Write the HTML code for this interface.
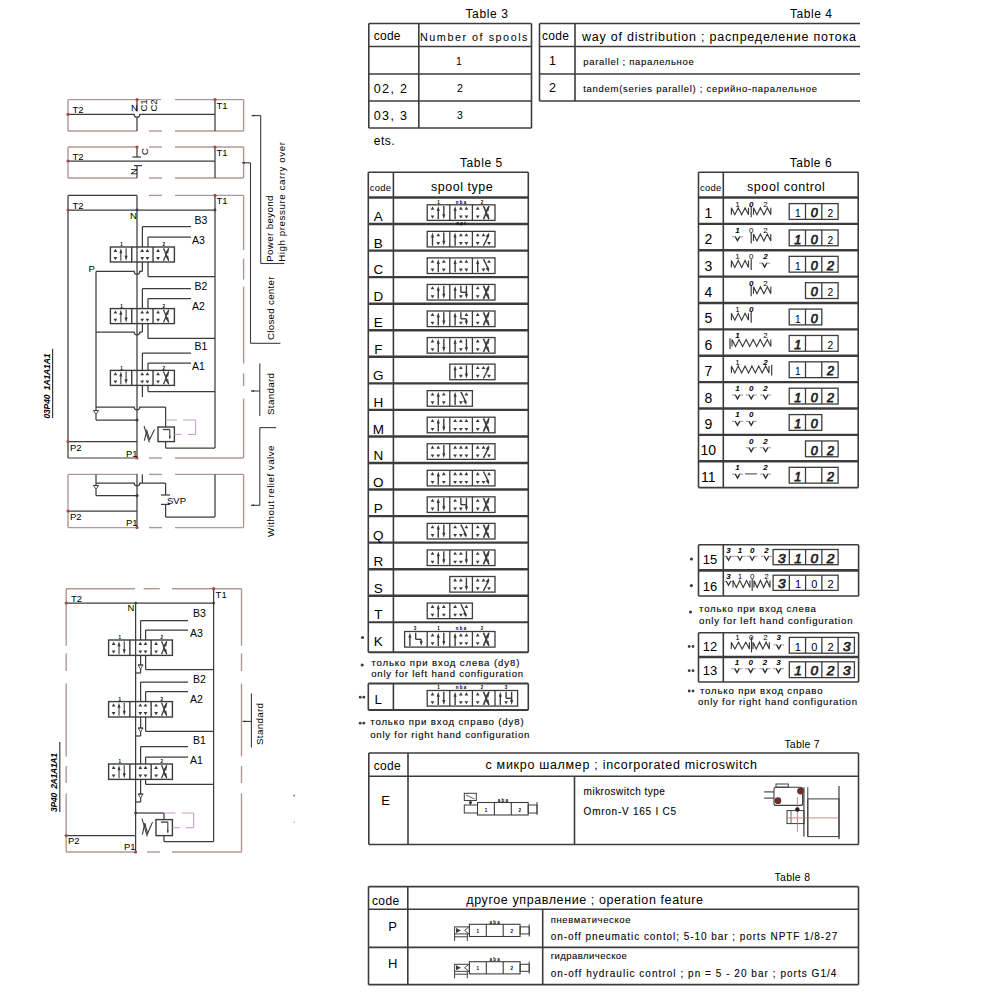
<!DOCTYPE html>
<html><head><meta charset="utf-8"><title>Technical sheet</title>
<style>
html,body{margin:0;padding:0;background:#fff;}
body{width:1000px;height:1000px;overflow:hidden;}
svg{display:block;font-family:"Liberation Sans",sans-serif;}
</style></head><body>
<svg width="1000" height="1000" viewBox="0 0 1000 1000">
<rect width="1000" height="1000" fill="#fff"/>
<text x="465.5" y="17.5" font-size="12" textLength="42.5" lengthAdjust="spacing">Table 3</text>
<line x1="368.8" y1="23.5" x2="531.5" y2="23.5" stroke="#3c3c3c" stroke-width="1.6"/>
<line x1="368.8" y1="46.5" x2="531.5" y2="46.5" stroke="#3c3c3c" stroke-width="1.6"/>
<line x1="368.8" y1="74" x2="531.5" y2="74" stroke="#3c3c3c" stroke-width="1.6"/>
<line x1="368.8" y1="101" x2="531.5" y2="101" stroke="#3c3c3c" stroke-width="1.6"/>
<line x1="368.8" y1="128" x2="531.5" y2="128" stroke="#3c3c3c" stroke-width="1.6"/>
<line x1="368.8" y1="23.5" x2="368.8" y2="128" stroke="#3c3c3c" stroke-width="1.6"/>
<line x1="418.8" y1="23.5" x2="418.8" y2="128" stroke="#3c3c3c" stroke-width="1.6"/>
<line x1="531.5" y1="23.5" x2="531.5" y2="128" stroke="#3c3c3c" stroke-width="1.6"/>
<text x="373.8" y="40" font-size="12" textLength="26.7" lengthAdjust="spacing">code</text>
<text x="420" y="40.5" font-size="10.8" textLength="107.5" lengthAdjust="spacing">Number of spools</text>
<text x="459" y="65" font-size="10.5" text-anchor="middle">1</text>
<text x="460" y="92" font-size="10.5" text-anchor="middle">2</text>
<text x="460" y="118.8" font-size="10.5" text-anchor="middle">3</text>
<text x="373.8" y="92.5" font-size="12.5" textLength="33.2" lengthAdjust="spacing">02, 2</text>
<text x="373.8" y="119.5" font-size="12.5" textLength="33.2" lengthAdjust="spacing">03, 3</text>
<text x="373.8" y="144.5" font-size="12" textLength="20.7" lengthAdjust="spacing">ets.</text>
<text x="790" y="17.5" font-size="12" textLength="42" lengthAdjust="spacing">Table 4</text>
<line x1="539.5" y1="23.5" x2="860" y2="23.5" stroke="#3c3c3c" stroke-width="1.6"/>
<line x1="539.5" y1="46.5" x2="860" y2="46.5" stroke="#3c3c3c" stroke-width="1.6"/>
<line x1="539.5" y1="74" x2="860" y2="74" stroke="#3c3c3c" stroke-width="1.6"/>
<line x1="539.5" y1="101" x2="860" y2="101" stroke="#3c3c3c" stroke-width="1.6"/>
<line x1="539.5" y1="23.5" x2="539.5" y2="101" stroke="#3c3c3c" stroke-width="1.6"/>
<line x1="575" y1="23.5" x2="575" y2="101" stroke="#3c3c3c" stroke-width="1.6"/>
<text x="542" y="40" font-size="12" textLength="27" lengthAdjust="spacing">code</text>
<text x="582" y="40.5" font-size="12.5" textLength="274" lengthAdjust="spacing">way of distribution ; распределение потока</text>
<text x="552.5" y="65" font-size="12.5" text-anchor="middle">1</text>
<text x="552.5" y="92" font-size="12.5" text-anchor="middle">2</text>
<text x="583.2" y="64.8" font-size="9.5" stroke="#2a2a2a" stroke-width="0.12" textLength="110.6" lengthAdjust="spacing">parallel ; паралельное</text>
<text x="583.2" y="91.7" font-size="9.5" stroke="#2a2a2a" stroke-width="0.12" textLength="233.8" lengthAdjust="spacing">tandem(series parallel) ; серийно-паралельное</text>
<text x="460" y="166.7" font-size="12" textLength="42.3" lengthAdjust="spacing">Table 5</text>
<line x1="368.3" y1="172.2" x2="528.3" y2="172.2" stroke="#3c3c3c" stroke-width="1.6"/>
<line x1="368.3" y1="197.5" x2="528.3" y2="197.5" stroke="#3c3c3c" stroke-width="2.4"/>
<line x1="368.3" y1="224.05" x2="528.3" y2="224.05" stroke="#3c3c3c" stroke-width="2.4"/>
<line x1="368.3" y1="250.6" x2="528.3" y2="250.6" stroke="#3c3c3c" stroke-width="2.4"/>
<line x1="368.3" y1="277.15" x2="528.3" y2="277.15" stroke="#3c3c3c" stroke-width="2.4"/>
<line x1="368.3" y1="303.7" x2="528.3" y2="303.7" stroke="#3c3c3c" stroke-width="2.4"/>
<line x1="368.3" y1="330.25" x2="528.3" y2="330.25" stroke="#3c3c3c" stroke-width="2.4"/>
<line x1="368.3" y1="356.8" x2="528.3" y2="356.8" stroke="#3c3c3c" stroke-width="2.4"/>
<line x1="368.3" y1="383.35" x2="528.3" y2="383.35" stroke="#3c3c3c" stroke-width="2.4"/>
<line x1="368.3" y1="409.9" x2="528.3" y2="409.9" stroke="#3c3c3c" stroke-width="2.4"/>
<line x1="368.3" y1="436.45" x2="528.3" y2="436.45" stroke="#3c3c3c" stroke-width="2.4"/>
<line x1="368.3" y1="463" x2="528.3" y2="463" stroke="#3c3c3c" stroke-width="2.4"/>
<line x1="368.3" y1="489.55" x2="528.3" y2="489.55" stroke="#3c3c3c" stroke-width="2.4"/>
<line x1="368.3" y1="516.1" x2="528.3" y2="516.1" stroke="#3c3c3c" stroke-width="2.4"/>
<line x1="368.3" y1="542.65" x2="528.3" y2="542.65" stroke="#3c3c3c" stroke-width="2.4"/>
<line x1="368.3" y1="569.2" x2="528.3" y2="569.2" stroke="#3c3c3c" stroke-width="2.4"/>
<line x1="368.3" y1="595.75" x2="528.3" y2="595.75" stroke="#3c3c3c" stroke-width="2.4"/>
<line x1="368.3" y1="622.3" x2="528.3" y2="622.3" stroke="#3c3c3c" stroke-width="2"/>
<line x1="368.3" y1="172.2" x2="368.3" y2="652.2" stroke="#3c3c3c" stroke-width="1.6"/>
<line x1="393.4" y1="172.2" x2="393.4" y2="652.2" stroke="#3c3c3c" stroke-width="1.6"/>
<line x1="528.3" y1="172.2" x2="528.3" y2="652.2" stroke="#3c3c3c" stroke-width="1.6"/>
<line x1="368.3" y1="652.2" x2="528.3" y2="652.2" stroke="#3c3c3c" stroke-width="2"/>
<text x="369.8" y="191.4" font-size="9.5" textLength="21.3" lengthAdjust="spacing">code</text>
<text x="431" y="190.9" font-size="12.5" textLength="61.8" lengthAdjust="spacing">spool type</text>
<text x="378.3" y="221.1" font-size="13.5" text-anchor="middle">A</text>
<text x="378.3" y="247.65" font-size="13.5" text-anchor="middle">B</text>
<text x="378.3" y="274.2" font-size="13.5" text-anchor="middle">C</text>
<text x="378.3" y="300.75" font-size="13.5" text-anchor="middle">D</text>
<text x="378.3" y="327.3" font-size="13.5" text-anchor="middle">E</text>
<text x="378.3" y="353.85" font-size="13.5" text-anchor="middle">F</text>
<text x="378.3" y="380.4" font-size="13.5" text-anchor="middle">G</text>
<text x="378.3" y="406.95" font-size="13.5" text-anchor="middle">H</text>
<text x="378.3" y="433.5" font-size="13.5" text-anchor="middle">M</text>
<text x="378.3" y="460.05" font-size="13.5" text-anchor="middle">N</text>
<text x="378.3" y="486.6" font-size="13.5" text-anchor="middle">O</text>
<text x="378.3" y="513.15" font-size="13.5" text-anchor="middle">P</text>
<text x="378.3" y="539.7" font-size="13.5" text-anchor="middle">Q</text>
<text x="378.3" y="566.25" font-size="13.5" text-anchor="middle">R</text>
<text x="378.3" y="592.8" font-size="13.5" text-anchor="middle">S</text>
<text x="378.3" y="619.35" font-size="13.5" text-anchor="middle">T</text>
<text x="378.3" y="645.5" font-size="13.5" text-anchor="middle">K</text>
<polygon points="432.51,206.6 430.61,209.7 434.41,209.7" fill="#3c3c3c"/>
<polygon points="432.51,218.6 430.61,215.5 434.41,215.5" fill="#3c3c3c"/>
<line x1="438.27" y1="208.8" x2="438.27" y2="219.2" stroke="#3c3c3c" stroke-width="1.4"/>
<polygon points="438.27,206 439.82,211 436.72,211" fill="#3c3c3c"/>
<line x1="443.81" y1="206" x2="443.81" y2="216.4" stroke="#3c3c3c" stroke-width="1.4"/>
<polygon points="443.81,219.2 442.26,214.2 445.36,214.2" fill="#3c3c3c"/>
<line x1="455.11" y1="208.8" x2="455.11" y2="219.2" stroke="#3c3c3c" stroke-width="1.4"/>
<polygon points="455.11,206 456.66,211 453.56,211" fill="#3c3c3c"/>
<polygon points="460.87,206.6 458.97,209.7 462.77,209.7" fill="#3c3c3c"/>
<polygon points="460.87,218.6 458.97,215.5 462.77,215.5" fill="#3c3c3c"/>
<polygon points="466.41,206.6 464.51,209.7 468.31,209.7" fill="#3c3c3c"/>
<polygon points="466.41,218.6 464.51,215.5 468.31,215.5" fill="#3c3c3c"/>
<polygon points="477.71,206.6 475.81,209.7 479.61,209.7" fill="#3c3c3c"/>
<polygon points="477.71,218.6 475.81,215.5 479.61,215.5" fill="#3c3c3c"/>
<line x1="483.47" y1="206" x2="489.01" y2="219.2" stroke="#3c3c3c" stroke-width="1.61"/>
<line x1="489.01" y1="206" x2="483.47" y2="219.2" stroke="#3c3c3c" stroke-width="1.61"/>
<polygon points="489.01,206 488.51,211.21 485.65,210.01" fill="#3c3c3c"/>
<polygon points="489.01,219.2 485.65,215.19 488.51,213.99" fill="#3c3c3c"/>
<rect x="427.2" y="204.8" width="67.8" height="15.6" stroke="#3c3c3c" stroke-width="1.3" fill="none"/>
<line x1="449.8" y1="204.8" x2="449.8" y2="220.4" stroke="#3c3c3c" stroke-width="1.3"/>
<line x1="472.4" y1="204.8" x2="472.4" y2="220.4" stroke="#3c3c3c" stroke-width="1.3"/>
<line x1="432.51" y1="235.35" x2="432.51" y2="245.75" stroke="#3c3c3c" stroke-width="1.4"/>
<polygon points="432.51,232.55 434.06,237.55 430.96,237.55" fill="#3c3c3c"/>
<polygon points="438.27,233.15 436.37,236.25 440.17,236.25" fill="#3c3c3c"/>
<polygon points="438.27,245.15 436.37,242.05 440.17,242.05" fill="#3c3c3c"/>
<line x1="443.81" y1="232.55" x2="443.81" y2="242.95" stroke="#3c3c3c" stroke-width="1.4"/>
<polygon points="443.81,245.75 442.26,240.75 445.36,240.75" fill="#3c3c3c"/>
<line x1="455.11" y1="235.35" x2="455.11" y2="245.75" stroke="#3c3c3c" stroke-width="1.4"/>
<polygon points="455.11,232.55 456.66,237.55 453.56,237.55" fill="#3c3c3c"/>
<polygon points="460.87,233.15 458.97,236.25 462.77,236.25" fill="#3c3c3c"/>
<polygon points="460.87,245.15 458.97,242.05 462.77,242.05" fill="#3c3c3c"/>
<polygon points="466.41,233.15 464.51,236.25 468.31,236.25" fill="#3c3c3c"/>
<polygon points="466.41,245.15 464.51,242.05 468.31,242.05" fill="#3c3c3c"/>
<polygon points="477.71,233.15 475.81,236.25 479.61,236.25" fill="#3c3c3c"/>
<polygon points="477.71,245.15 475.81,242.05 479.61,242.05" fill="#3c3c3c"/>
<line x1="483.47" y1="245.75" x2="489.01" y2="234.55" stroke="#3c3c3c" stroke-width="1.4"/>
<polygon points="489.01,232.55 488.51,237.76 485.65,236.56" fill="#3c3c3c"/>
<polygon points="483.47,233.15 481.57,236.25 485.37,236.25" fill="#3c3c3c"/>
<polygon points="489.01,245.15 487.11,242.05 490.91,242.05" fill="#3c3c3c"/>
<rect x="427.2" y="231.35" width="67.8" height="15.6" stroke="#3c3c3c" stroke-width="1.3" fill="none"/>
<line x1="449.8" y1="231.35" x2="449.8" y2="246.95" stroke="#3c3c3c" stroke-width="1.3"/>
<line x1="472.4" y1="231.35" x2="472.4" y2="246.95" stroke="#3c3c3c" stroke-width="1.3"/>
<polygon points="432.51,259.7 430.61,262.8 434.41,262.8" fill="#3c3c3c"/>
<polygon points="432.51,271.7 430.61,268.6 434.41,268.6" fill="#3c3c3c"/>
<line x1="438.27" y1="261.9" x2="438.27" y2="272.3" stroke="#3c3c3c" stroke-width="1.4"/>
<polygon points="438.27,259.1 439.82,264.1 436.72,264.1" fill="#3c3c3c"/>
<polygon points="443.81,259.7 441.91,262.8 445.71,262.8" fill="#3c3c3c"/>
<polygon points="443.81,271.7 441.91,268.6 445.71,268.6" fill="#3c3c3c"/>
<line x1="455.11" y1="261.9" x2="455.11" y2="272.3" stroke="#3c3c3c" stroke-width="1.4"/>
<polygon points="455.11,259.1 456.66,264.1 453.56,264.1" fill="#3c3c3c"/>
<polygon points="460.87,259.7 458.97,262.8 462.77,262.8" fill="#3c3c3c"/>
<polygon points="460.87,271.7 458.97,268.6 462.77,268.6" fill="#3c3c3c"/>
<polygon points="466.41,259.7 464.51,262.8 468.31,262.8" fill="#3c3c3c"/>
<polygon points="466.41,271.7 464.51,268.6 468.31,268.6" fill="#3c3c3c"/>
<line x1="477.71" y1="261.9" x2="477.71" y2="272.3" stroke="#3c3c3c" stroke-width="1.4"/>
<polygon points="477.71,259.1 479.26,264.1 476.16,264.1" fill="#3c3c3c"/>
<line x1="483.47" y1="259.1" x2="489.01" y2="270.3" stroke="#3c3c3c" stroke-width="1.4"/>
<polygon points="489.01,272.3 485.65,268.29 488.51,267.09" fill="#3c3c3c"/>
<polygon points="489.01,259.7 487.11,262.8 490.91,262.8" fill="#3c3c3c"/>
<polygon points="483.47,271.7 481.57,268.6 485.37,268.6" fill="#3c3c3c"/>
<rect x="427.2" y="257.9" width="67.8" height="15.6" stroke="#3c3c3c" stroke-width="1.3" fill="none"/>
<line x1="449.8" y1="257.9" x2="449.8" y2="273.5" stroke="#3c3c3c" stroke-width="1.3"/>
<line x1="472.4" y1="257.9" x2="472.4" y2="273.5" stroke="#3c3c3c" stroke-width="1.3"/>
<polygon points="432.51,286.25 430.61,289.35 434.41,289.35" fill="#3c3c3c"/>
<polygon points="432.51,298.25 430.61,295.15 434.41,295.15" fill="#3c3c3c"/>
<line x1="438.27" y1="288.45" x2="438.27" y2="298.85" stroke="#3c3c3c" stroke-width="1.4"/>
<polygon points="438.27,285.65 439.82,290.65 436.72,290.65" fill="#3c3c3c"/>
<line x1="443.81" y1="285.65" x2="443.81" y2="296.05" stroke="#3c3c3c" stroke-width="1.4"/>
<polygon points="443.81,298.85 442.26,293.85 445.36,293.85" fill="#3c3c3c"/>
<line x1="455.11" y1="288.45" x2="455.11" y2="298.85" stroke="#3c3c3c" stroke-width="1.4"/>
<polygon points="455.11,285.65 456.66,290.65 453.56,290.65" fill="#3c3c3c"/>
<line x1="460.87" y1="285.65" x2="460.87" y2="292.25" stroke="#3c3c3c" stroke-width="1.4"/>
<line x1="460.87" y1="292.25" x2="466.41" y2="292.25" stroke="#3c3c3c" stroke-width="1.4"/>
<line x1="466.41" y1="285.65" x2="466.41" y2="295.85" stroke="#3c3c3c" stroke-width="1.4"/>
<polygon points="466.41,298.85 464.86,293.85 467.96,293.85" fill="#3c3c3c"/>
<polygon points="460.87,298.25 458.97,295.15 462.77,295.15" fill="#3c3c3c"/>
<polygon points="477.71,286.25 475.81,289.35 479.61,289.35" fill="#3c3c3c"/>
<polygon points="477.71,298.25 475.81,295.15 479.61,295.15" fill="#3c3c3c"/>
<line x1="483.47" y1="285.65" x2="489.01" y2="298.85" stroke="#3c3c3c" stroke-width="1.61"/>
<line x1="489.01" y1="285.65" x2="483.47" y2="298.85" stroke="#3c3c3c" stroke-width="1.61"/>
<polygon points="489.01,285.65 488.51,290.86 485.65,289.66" fill="#3c3c3c"/>
<polygon points="489.01,298.85 485.65,294.84 488.51,293.64" fill="#3c3c3c"/>
<rect x="427.2" y="284.45" width="67.8" height="15.6" stroke="#3c3c3c" stroke-width="1.3" fill="none"/>
<line x1="449.8" y1="284.45" x2="449.8" y2="300.05" stroke="#3c3c3c" stroke-width="1.3"/>
<line x1="472.4" y1="284.45" x2="472.4" y2="300.05" stroke="#3c3c3c" stroke-width="1.3"/>
<polygon points="432.51,312.8 430.61,315.9 434.41,315.9" fill="#3c3c3c"/>
<polygon points="432.51,324.8 430.61,321.7 434.41,321.7" fill="#3c3c3c"/>
<line x1="438.27" y1="315" x2="438.27" y2="325.4" stroke="#3c3c3c" stroke-width="1.4"/>
<polygon points="438.27,312.2 439.82,317.2 436.72,317.2" fill="#3c3c3c"/>
<line x1="443.81" y1="312.2" x2="443.81" y2="322.6" stroke="#3c3c3c" stroke-width="1.4"/>
<polygon points="443.81,325.4 442.26,320.4 445.36,320.4" fill="#3c3c3c"/>
<line x1="455.11" y1="315" x2="455.11" y2="325.4" stroke="#3c3c3c" stroke-width="1.4"/>
<polygon points="455.11,312.2 456.66,317.2 453.56,317.2" fill="#3c3c3c"/>
<line x1="460.87" y1="312.2" x2="460.87" y2="318.8" stroke="#3c3c3c" stroke-width="1.4"/>
<line x1="460.87" y1="318.8" x2="466.41" y2="318.8" stroke="#3c3c3c" stroke-width="1.4"/>
<line x1="466.41" y1="318.8" x2="466.41" y2="322.4" stroke="#3c3c3c" stroke-width="1.4"/>
<polygon points="466.41,325.4 464.86,320.4 467.96,320.4" fill="#3c3c3c"/>
<polygon points="466.41,312.8 464.51,315.9 468.31,315.9" fill="#3c3c3c"/>
<polygon points="460.87,324.8 458.97,321.7 462.77,321.7" fill="#3c3c3c"/>
<polygon points="477.71,312.8 475.81,315.9 479.61,315.9" fill="#3c3c3c"/>
<polygon points="477.71,324.8 475.81,321.7 479.61,321.7" fill="#3c3c3c"/>
<line x1="483.47" y1="312.2" x2="489.01" y2="325.4" stroke="#3c3c3c" stroke-width="1.61"/>
<line x1="489.01" y1="312.2" x2="483.47" y2="325.4" stroke="#3c3c3c" stroke-width="1.61"/>
<polygon points="489.01,312.2 488.51,317.41 485.65,316.21" fill="#3c3c3c"/>
<polygon points="489.01,325.4 485.65,321.39 488.51,320.19" fill="#3c3c3c"/>
<rect x="427.2" y="311" width="67.8" height="15.6" stroke="#3c3c3c" stroke-width="1.3" fill="none"/>
<line x1="449.8" y1="311" x2="449.8" y2="326.6" stroke="#3c3c3c" stroke-width="1.3"/>
<line x1="472.4" y1="311" x2="472.4" y2="326.6" stroke="#3c3c3c" stroke-width="1.3"/>
<polygon points="432.51,339.35 430.61,342.45 434.41,342.45" fill="#3c3c3c"/>
<polygon points="432.51,351.35 430.61,348.25 434.41,348.25" fill="#3c3c3c"/>
<line x1="438.27" y1="341.55" x2="438.27" y2="351.95" stroke="#3c3c3c" stroke-width="1.4"/>
<polygon points="438.27,338.75 439.82,343.75 436.72,343.75" fill="#3c3c3c"/>
<line x1="443.81" y1="338.75" x2="443.81" y2="349.15" stroke="#3c3c3c" stroke-width="1.4"/>
<polygon points="443.81,351.95 442.26,346.95 445.36,346.95" fill="#3c3c3c"/>
<line x1="455.11" y1="341.55" x2="455.11" y2="351.95" stroke="#3c3c3c" stroke-width="1.4"/>
<polygon points="455.11,338.75 456.66,343.75 453.56,343.75" fill="#3c3c3c"/>
<polygon points="460.87,339.35 458.97,342.45 462.77,342.45" fill="#3c3c3c"/>
<polygon points="460.87,351.35 458.97,348.25 462.77,348.25" fill="#3c3c3c"/>
<line x1="466.41" y1="338.75" x2="466.41" y2="349.15" stroke="#3c3c3c" stroke-width="1.4"/>
<polygon points="466.41,351.95 464.86,346.95 467.96,346.95" fill="#3c3c3c"/>
<polygon points="477.71,339.35 475.81,342.45 479.61,342.45" fill="#3c3c3c"/>
<polygon points="477.71,351.35 475.81,348.25 479.61,348.25" fill="#3c3c3c"/>
<line x1="483.47" y1="338.75" x2="489.01" y2="351.95" stroke="#3c3c3c" stroke-width="1.61"/>
<line x1="489.01" y1="338.75" x2="483.47" y2="351.95" stroke="#3c3c3c" stroke-width="1.61"/>
<polygon points="489.01,338.75 488.51,343.96 485.65,342.76" fill="#3c3c3c"/>
<polygon points="489.01,351.95 485.65,347.94 488.51,346.74" fill="#3c3c3c"/>
<rect x="427.2" y="337.55" width="67.8" height="15.6" stroke="#3c3c3c" stroke-width="1.3" fill="none"/>
<line x1="449.8" y1="337.55" x2="449.8" y2="353.15" stroke="#3c3c3c" stroke-width="1.3"/>
<line x1="472.4" y1="337.55" x2="472.4" y2="353.15" stroke="#3c3c3c" stroke-width="1.3"/>
<line x1="455.11" y1="368.1" x2="455.11" y2="378.5" stroke="#3c3c3c" stroke-width="1.4"/>
<polygon points="455.11,365.3 456.66,370.3 453.56,370.3" fill="#3c3c3c"/>
<polygon points="460.87,365.9 458.97,369 462.77,369" fill="#3c3c3c"/>
<polygon points="460.87,377.9 458.97,374.8 462.77,374.8" fill="#3c3c3c"/>
<line x1="466.41" y1="365.3" x2="466.41" y2="375.7" stroke="#3c3c3c" stroke-width="1.4"/>
<polygon points="466.41,378.5 464.86,373.5 467.96,373.5" fill="#3c3c3c"/>
<polygon points="477.71,365.9 475.81,369 479.61,369" fill="#3c3c3c"/>
<polygon points="477.71,377.9 475.81,374.8 479.61,374.8" fill="#3c3c3c"/>
<line x1="483.47" y1="378.5" x2="489.01" y2="367.3" stroke="#3c3c3c" stroke-width="1.4"/>
<polygon points="489.01,365.3 488.51,370.51 485.65,369.31" fill="#3c3c3c"/>
<polygon points="483.47,365.9 481.57,369 485.37,369" fill="#3c3c3c"/>
<polygon points="489.01,377.9 487.11,374.8 490.91,374.8" fill="#3c3c3c"/>
<rect x="449.8" y="364.1" width="45.2" height="15.6" stroke="#3c3c3c" stroke-width="1.3" fill="none"/>
<line x1="472.4" y1="364.1" x2="472.4" y2="379.7" stroke="#3c3c3c" stroke-width="1.3"/>
<polygon points="432.51,392.45 430.61,395.55 434.41,395.55" fill="#3c3c3c"/>
<polygon points="432.51,404.45 430.61,401.35 434.41,401.35" fill="#3c3c3c"/>
<line x1="438.27" y1="394.65" x2="438.27" y2="405.05" stroke="#3c3c3c" stroke-width="1.4"/>
<polygon points="438.27,391.85 439.82,396.85 436.72,396.85" fill="#3c3c3c"/>
<polygon points="443.81,392.45 441.91,395.55 445.71,395.55" fill="#3c3c3c"/>
<polygon points="443.81,404.45 441.91,401.35 445.71,401.35" fill="#3c3c3c"/>
<line x1="455.11" y1="394.65" x2="455.11" y2="405.05" stroke="#3c3c3c" stroke-width="1.4"/>
<polygon points="455.11,391.85 456.66,396.85 453.56,396.85" fill="#3c3c3c"/>
<line x1="460.87" y1="391.85" x2="466.41" y2="403.05" stroke="#3c3c3c" stroke-width="1.4"/>
<polygon points="466.41,405.05 463.05,401.04 465.91,399.84" fill="#3c3c3c"/>
<polygon points="466.41,392.45 464.51,395.55 468.31,395.55" fill="#3c3c3c"/>
<polygon points="460.87,404.45 458.97,401.35 462.77,401.35" fill="#3c3c3c"/>
<rect x="427.2" y="390.65" width="45.2" height="15.6" stroke="#3c3c3c" stroke-width="1.3" fill="none"/>
<line x1="449.8" y1="390.65" x2="449.8" y2="406.25" stroke="#3c3c3c" stroke-width="1.3"/>
<polygon points="432.51,419 430.61,422.1 434.41,422.1" fill="#3c3c3c"/>
<polygon points="432.51,431 430.61,427.9 434.41,427.9" fill="#3c3c3c"/>
<line x1="438.27" y1="421.2" x2="438.27" y2="431.6" stroke="#3c3c3c" stroke-width="1.4"/>
<polygon points="438.27,418.4 439.82,423.4 436.72,423.4" fill="#3c3c3c"/>
<line x1="443.81" y1="418.4" x2="443.81" y2="428.8" stroke="#3c3c3c" stroke-width="1.4"/>
<polygon points="443.81,431.6 442.26,426.6 445.36,426.6" fill="#3c3c3c"/>
<polygon points="455.11,419 453.21,422.1 457.01,422.1" fill="#3c3c3c"/>
<polygon points="455.11,431 453.21,427.9 457.01,427.9" fill="#3c3c3c"/>
<polygon points="460.87,419 458.97,422.1 462.77,422.1" fill="#3c3c3c"/>
<polygon points="460.87,431 458.97,427.9 462.77,427.9" fill="#3c3c3c"/>
<polygon points="466.41,419 464.51,422.1 468.31,422.1" fill="#3c3c3c"/>
<polygon points="466.41,431 464.51,427.9 468.31,427.9" fill="#3c3c3c"/>
<polygon points="477.71,419 475.81,422.1 479.61,422.1" fill="#3c3c3c"/>
<polygon points="477.71,431 475.81,427.9 479.61,427.9" fill="#3c3c3c"/>
<line x1="483.47" y1="418.4" x2="489.01" y2="431.6" stroke="#3c3c3c" stroke-width="1.61"/>
<line x1="489.01" y1="418.4" x2="483.47" y2="431.6" stroke="#3c3c3c" stroke-width="1.61"/>
<polygon points="489.01,418.4 488.51,423.61 485.65,422.41" fill="#3c3c3c"/>
<polygon points="489.01,431.6 485.65,427.59 488.51,426.39" fill="#3c3c3c"/>
<rect x="427.2" y="417.2" width="67.8" height="15.6" stroke="#3c3c3c" stroke-width="1.3" fill="none"/>
<line x1="449.8" y1="417.2" x2="449.8" y2="432.8" stroke="#3c3c3c" stroke-width="1.3"/>
<line x1="472.4" y1="417.2" x2="472.4" y2="432.8" stroke="#3c3c3c" stroke-width="1.3"/>
<polygon points="432.51,445.55 430.61,448.65 434.41,448.65" fill="#3c3c3c"/>
<polygon points="432.51,457.55 430.61,454.45 434.41,454.45" fill="#3c3c3c"/>
<polygon points="438.27,445.55 436.37,448.65 440.17,448.65" fill="#3c3c3c"/>
<polygon points="438.27,457.55 436.37,454.45 440.17,454.45" fill="#3c3c3c"/>
<line x1="443.81" y1="444.95" x2="443.81" y2="455.35" stroke="#3c3c3c" stroke-width="1.4"/>
<polygon points="443.81,458.15 442.26,453.15 445.36,453.15" fill="#3c3c3c"/>
<polygon points="455.11,445.55 453.21,448.65 457.01,448.65" fill="#3c3c3c"/>
<polygon points="455.11,457.55 453.21,454.45 457.01,454.45" fill="#3c3c3c"/>
<polygon points="460.87,445.55 458.97,448.65 462.77,448.65" fill="#3c3c3c"/>
<polygon points="460.87,457.55 458.97,454.45 462.77,454.45" fill="#3c3c3c"/>
<polygon points="466.41,445.55 464.51,448.65 468.31,448.65" fill="#3c3c3c"/>
<polygon points="466.41,457.55 464.51,454.45 468.31,454.45" fill="#3c3c3c"/>
<polygon points="477.71,445.55 475.81,448.65 479.61,448.65" fill="#3c3c3c"/>
<polygon points="477.71,457.55 475.81,454.45 479.61,454.45" fill="#3c3c3c"/>
<line x1="483.47" y1="458.15" x2="489.01" y2="446.95" stroke="#3c3c3c" stroke-width="1.4"/>
<polygon points="489.01,444.95 488.51,450.16 485.65,448.96" fill="#3c3c3c"/>
<polygon points="483.47,445.55 481.57,448.65 485.37,448.65" fill="#3c3c3c"/>
<polygon points="489.01,457.55 487.11,454.45 490.91,454.45" fill="#3c3c3c"/>
<rect x="427.2" y="443.75" width="67.8" height="15.6" stroke="#3c3c3c" stroke-width="1.3" fill="none"/>
<line x1="449.8" y1="443.75" x2="449.8" y2="459.35" stroke="#3c3c3c" stroke-width="1.3"/>
<line x1="472.4" y1="443.75" x2="472.4" y2="459.35" stroke="#3c3c3c" stroke-width="1.3"/>
<polygon points="432.51,472.1 430.61,475.2 434.41,475.2" fill="#3c3c3c"/>
<polygon points="432.51,484.1 430.61,481 434.41,481" fill="#3c3c3c"/>
<line x1="438.27" y1="474.3" x2="438.27" y2="484.7" stroke="#3c3c3c" stroke-width="1.4"/>
<polygon points="438.27,471.5 439.82,476.5 436.72,476.5" fill="#3c3c3c"/>
<polygon points="443.81,472.1 441.91,475.2 445.71,475.2" fill="#3c3c3c"/>
<polygon points="443.81,484.1 441.91,481 445.71,481" fill="#3c3c3c"/>
<polygon points="455.11,472.1 453.21,475.2 457.01,475.2" fill="#3c3c3c"/>
<polygon points="455.11,484.1 453.21,481 457.01,481" fill="#3c3c3c"/>
<polygon points="460.87,472.1 458.97,475.2 462.77,475.2" fill="#3c3c3c"/>
<polygon points="460.87,484.1 458.97,481 462.77,481" fill="#3c3c3c"/>
<polygon points="466.41,472.1 464.51,475.2 468.31,475.2" fill="#3c3c3c"/>
<polygon points="466.41,484.1 464.51,481 468.31,481" fill="#3c3c3c"/>
<polygon points="477.71,472.1 475.81,475.2 479.61,475.2" fill="#3c3c3c"/>
<polygon points="477.71,484.1 475.81,481 479.61,481" fill="#3c3c3c"/>
<line x1="483.47" y1="471.5" x2="489.01" y2="482.7" stroke="#3c3c3c" stroke-width="1.4"/>
<polygon points="489.01,484.7 485.65,480.69 488.51,479.49" fill="#3c3c3c"/>
<polygon points="489.01,472.1 487.11,475.2 490.91,475.2" fill="#3c3c3c"/>
<polygon points="483.47,484.1 481.57,481 485.37,481" fill="#3c3c3c"/>
<rect x="427.2" y="470.3" width="67.8" height="15.6" stroke="#3c3c3c" stroke-width="1.3" fill="none"/>
<line x1="449.8" y1="470.3" x2="449.8" y2="485.9" stroke="#3c3c3c" stroke-width="1.3"/>
<line x1="472.4" y1="470.3" x2="472.4" y2="485.9" stroke="#3c3c3c" stroke-width="1.3"/>
<polygon points="432.51,498.65 430.61,501.75 434.41,501.75" fill="#3c3c3c"/>
<polygon points="432.51,510.65 430.61,507.55 434.41,507.55" fill="#3c3c3c"/>
<line x1="438.27" y1="500.85" x2="438.27" y2="511.25" stroke="#3c3c3c" stroke-width="1.4"/>
<polygon points="438.27,498.05 439.82,503.05 436.72,503.05" fill="#3c3c3c"/>
<line x1="443.81" y1="498.05" x2="443.81" y2="508.45" stroke="#3c3c3c" stroke-width="1.4"/>
<polygon points="443.81,511.25 442.26,506.25 445.36,506.25" fill="#3c3c3c"/>
<polygon points="455.11,498.65 453.21,501.75 457.01,501.75" fill="#3c3c3c"/>
<polygon points="455.11,510.65 453.21,507.55 457.01,507.55" fill="#3c3c3c"/>
<line x1="460.87" y1="498.05" x2="460.87" y2="504.65" stroke="#3c3c3c" stroke-width="1.4"/>
<line x1="460.87" y1="504.65" x2="466.41" y2="504.65" stroke="#3c3c3c" stroke-width="1.4"/>
<line x1="466.41" y1="498.05" x2="466.41" y2="508.25" stroke="#3c3c3c" stroke-width="1.4"/>
<polygon points="466.41,511.25 464.86,506.25 467.96,506.25" fill="#3c3c3c"/>
<polygon points="460.87,510.65 458.97,507.55 462.77,507.55" fill="#3c3c3c"/>
<polygon points="477.71,498.65 475.81,501.75 479.61,501.75" fill="#3c3c3c"/>
<polygon points="477.71,510.65 475.81,507.55 479.61,507.55" fill="#3c3c3c"/>
<line x1="483.47" y1="498.05" x2="489.01" y2="511.25" stroke="#3c3c3c" stroke-width="1.61"/>
<line x1="489.01" y1="498.05" x2="483.47" y2="511.25" stroke="#3c3c3c" stroke-width="1.61"/>
<polygon points="489.01,498.05 488.51,503.26 485.65,502.06" fill="#3c3c3c"/>
<polygon points="489.01,511.25 485.65,507.24 488.51,506.04" fill="#3c3c3c"/>
<rect x="427.2" y="496.85" width="67.8" height="15.6" stroke="#3c3c3c" stroke-width="1.3" fill="none"/>
<line x1="449.8" y1="496.85" x2="449.8" y2="512.45" stroke="#3c3c3c" stroke-width="1.3"/>
<line x1="472.4" y1="496.85" x2="472.4" y2="512.45" stroke="#3c3c3c" stroke-width="1.3"/>
<polygon points="432.51,525.2 430.61,528.3 434.41,528.3" fill="#3c3c3c"/>
<polygon points="432.51,537.2 430.61,534.1 434.41,534.1" fill="#3c3c3c"/>
<line x1="438.27" y1="527.4" x2="438.27" y2="537.8" stroke="#3c3c3c" stroke-width="1.4"/>
<polygon points="438.27,524.6 439.82,529.6 436.72,529.6" fill="#3c3c3c"/>
<line x1="443.81" y1="524.6" x2="443.81" y2="535" stroke="#3c3c3c" stroke-width="1.4"/>
<polygon points="443.81,537.8 442.26,532.8 445.36,532.8" fill="#3c3c3c"/>
<polygon points="455.11,525.2 453.21,528.3 457.01,528.3" fill="#3c3c3c"/>
<polygon points="455.11,537.2 453.21,534.1 457.01,534.1" fill="#3c3c3c"/>
<line x1="460.87" y1="524.6" x2="466.41" y2="535.8" stroke="#3c3c3c" stroke-width="1.4"/>
<polygon points="466.41,537.8 463.05,533.79 465.91,532.59" fill="#3c3c3c"/>
<polygon points="466.41,525.2 464.51,528.3 468.31,528.3" fill="#3c3c3c"/>
<polygon points="460.87,537.2 458.97,534.1 462.77,534.1" fill="#3c3c3c"/>
<polygon points="477.71,525.2 475.81,528.3 479.61,528.3" fill="#3c3c3c"/>
<polygon points="477.71,537.2 475.81,534.1 479.61,534.1" fill="#3c3c3c"/>
<line x1="483.47" y1="524.6" x2="489.01" y2="537.8" stroke="#3c3c3c" stroke-width="1.61"/>
<line x1="489.01" y1="524.6" x2="483.47" y2="537.8" stroke="#3c3c3c" stroke-width="1.61"/>
<polygon points="489.01,524.6 488.51,529.81 485.65,528.61" fill="#3c3c3c"/>
<polygon points="489.01,537.8 485.65,533.79 488.51,532.59" fill="#3c3c3c"/>
<rect x="427.2" y="523.4" width="67.8" height="15.6" stroke="#3c3c3c" stroke-width="1.3" fill="none"/>
<line x1="449.8" y1="523.4" x2="449.8" y2="539" stroke="#3c3c3c" stroke-width="1.3"/>
<line x1="472.4" y1="523.4" x2="472.4" y2="539" stroke="#3c3c3c" stroke-width="1.3"/>
<polygon points="432.51,551.75 430.61,554.85 434.41,554.85" fill="#3c3c3c"/>
<polygon points="432.51,563.75 430.61,560.65 434.41,560.65" fill="#3c3c3c"/>
<line x1="438.27" y1="553.95" x2="438.27" y2="564.35" stroke="#3c3c3c" stroke-width="1.4"/>
<polygon points="438.27,551.15 439.82,556.15 436.72,556.15" fill="#3c3c3c"/>
<line x1="443.81" y1="551.15" x2="443.81" y2="561.55" stroke="#3c3c3c" stroke-width="1.4"/>
<polygon points="443.81,564.35 442.26,559.35 445.36,559.35" fill="#3c3c3c"/>
<polygon points="455.11,551.75 453.21,554.85 457.01,554.85" fill="#3c3c3c"/>
<polygon points="455.11,563.75 453.21,560.65 457.01,560.65" fill="#3c3c3c"/>
<polygon points="460.87,551.75 458.97,554.85 462.77,554.85" fill="#3c3c3c"/>
<polygon points="460.87,563.75 458.97,560.65 462.77,560.65" fill="#3c3c3c"/>
<line x1="466.41" y1="551.15" x2="466.41" y2="561.55" stroke="#3c3c3c" stroke-width="1.4"/>
<polygon points="466.41,564.35 464.86,559.35 467.96,559.35" fill="#3c3c3c"/>
<polygon points="477.71,551.75 475.81,554.85 479.61,554.85" fill="#3c3c3c"/>
<polygon points="477.71,563.75 475.81,560.65 479.61,560.65" fill="#3c3c3c"/>
<line x1="483.47" y1="551.15" x2="489.01" y2="564.35" stroke="#3c3c3c" stroke-width="1.61"/>
<line x1="489.01" y1="551.15" x2="483.47" y2="564.35" stroke="#3c3c3c" stroke-width="1.61"/>
<polygon points="489.01,551.15 488.51,556.36 485.65,555.16" fill="#3c3c3c"/>
<polygon points="489.01,564.35 485.65,560.34 488.51,559.14" fill="#3c3c3c"/>
<rect x="427.2" y="549.95" width="67.8" height="15.6" stroke="#3c3c3c" stroke-width="1.3" fill="none"/>
<line x1="449.8" y1="549.95" x2="449.8" y2="565.55" stroke="#3c3c3c" stroke-width="1.3"/>
<line x1="472.4" y1="549.95" x2="472.4" y2="565.55" stroke="#3c3c3c" stroke-width="1.3"/>
<polygon points="455.11,578.3 453.21,581.4 457.01,581.4" fill="#3c3c3c"/>
<polygon points="455.11,590.3 453.21,587.2 457.01,587.2" fill="#3c3c3c"/>
<polygon points="460.87,578.3 458.97,581.4 462.77,581.4" fill="#3c3c3c"/>
<polygon points="460.87,590.3 458.97,587.2 462.77,587.2" fill="#3c3c3c"/>
<line x1="466.41" y1="577.7" x2="466.41" y2="588.1" stroke="#3c3c3c" stroke-width="1.4"/>
<polygon points="466.41,590.9 464.86,585.9 467.96,585.9" fill="#3c3c3c"/>
<polygon points="477.71,578.3 475.81,581.4 479.61,581.4" fill="#3c3c3c"/>
<polygon points="477.71,590.3 475.81,587.2 479.61,587.2" fill="#3c3c3c"/>
<line x1="483.47" y1="590.9" x2="489.01" y2="579.7" stroke="#3c3c3c" stroke-width="1.4"/>
<polygon points="489.01,577.7 488.51,582.91 485.65,581.71" fill="#3c3c3c"/>
<polygon points="483.47,578.3 481.57,581.4 485.37,581.4" fill="#3c3c3c"/>
<polygon points="489.01,590.3 487.11,587.2 490.91,587.2" fill="#3c3c3c"/>
<rect x="449.8" y="576.5" width="45.2" height="15.6" stroke="#3c3c3c" stroke-width="1.3" fill="none"/>
<line x1="472.4" y1="576.5" x2="472.4" y2="592.1" stroke="#3c3c3c" stroke-width="1.3"/>
<polygon points="432.51,604.85 430.61,607.95 434.41,607.95" fill="#3c3c3c"/>
<polygon points="432.51,616.85 430.61,613.75 434.41,613.75" fill="#3c3c3c"/>
<line x1="438.27" y1="607.05" x2="438.27" y2="617.45" stroke="#3c3c3c" stroke-width="1.4"/>
<polygon points="438.27,604.25 439.82,609.25 436.72,609.25" fill="#3c3c3c"/>
<polygon points="443.81,604.85 441.91,607.95 445.71,607.95" fill="#3c3c3c"/>
<polygon points="443.81,616.85 441.91,613.75 445.71,613.75" fill="#3c3c3c"/>
<polygon points="455.11,604.85 453.21,607.95 457.01,607.95" fill="#3c3c3c"/>
<polygon points="455.11,616.85 453.21,613.75 457.01,613.75" fill="#3c3c3c"/>
<line x1="460.87" y1="604.25" x2="466.41" y2="615.45" stroke="#3c3c3c" stroke-width="1.4"/>
<polygon points="466.41,617.45 463.05,613.44 465.91,612.24" fill="#3c3c3c"/>
<polygon points="466.41,604.85 464.51,607.95 468.31,607.95" fill="#3c3c3c"/>
<polygon points="460.87,616.85 458.97,613.75 462.77,613.75" fill="#3c3c3c"/>
<rect x="427.2" y="603.05" width="45.2" height="15.6" stroke="#3c3c3c" stroke-width="1.3" fill="none"/>
<line x1="449.8" y1="603.05" x2="449.8" y2="618.65" stroke="#3c3c3c" stroke-width="1.3"/>
<text x="438.4" y="203.5" font-size="4.5" text-anchor="middle" font-weight="bold">1</text>
<text x="461" y="203.5" font-size="4.5" text-anchor="middle" font-weight="bold">n b a</text>
<text x="482" y="203.5" font-size="4.5" text-anchor="middle" font-weight="bold">2</text>
<text x="461" y="224.6" font-size="4.5" text-anchor="middle" font-weight="bold">n p t</text>
<line x1="409.91" y1="635.5" x2="409.91" y2="645.9" stroke="#3c3c3c" stroke-width="1.4"/>
<polygon points="409.91,632.7 411.46,637.7 408.36,637.7" fill="#3c3c3c"/>
<line x1="415.67" y1="632.7" x2="415.67" y2="639.3" stroke="#3c3c3c" stroke-width="1.4"/>
<line x1="415.67" y1="639.3" x2="421.21" y2="639.3" stroke="#3c3c3c" stroke-width="1.4"/>
<line x1="421.21" y1="639.3" x2="421.21" y2="642.9" stroke="#3c3c3c" stroke-width="1.4"/>
<polygon points="421.21,645.9 419.66,640.9 422.76,640.9" fill="#3c3c3c"/>
<polygon points="432.51,633.3 430.61,636.4 434.41,636.4" fill="#3c3c3c"/>
<polygon points="432.51,645.3 430.61,642.2 434.41,642.2" fill="#3c3c3c"/>
<line x1="438.27" y1="635.5" x2="438.27" y2="645.9" stroke="#3c3c3c" stroke-width="1.4"/>
<polygon points="438.27,632.7 439.82,637.7 436.72,637.7" fill="#3c3c3c"/>
<line x1="443.81" y1="632.7" x2="443.81" y2="643.1" stroke="#3c3c3c" stroke-width="1.4"/>
<polygon points="443.81,645.9 442.26,640.9 445.36,640.9" fill="#3c3c3c"/>
<line x1="455.11" y1="635.5" x2="455.11" y2="645.9" stroke="#3c3c3c" stroke-width="1.4"/>
<polygon points="455.11,632.7 456.66,637.7 453.56,637.7" fill="#3c3c3c"/>
<polygon points="460.87,633.3 458.97,636.4 462.77,636.4" fill="#3c3c3c"/>
<polygon points="460.87,645.3 458.97,642.2 462.77,642.2" fill="#3c3c3c"/>
<polygon points="466.41,633.3 464.51,636.4 468.31,636.4" fill="#3c3c3c"/>
<polygon points="466.41,645.3 464.51,642.2 468.31,642.2" fill="#3c3c3c"/>
<polygon points="477.71,633.3 475.81,636.4 479.61,636.4" fill="#3c3c3c"/>
<polygon points="477.71,645.3 475.81,642.2 479.61,642.2" fill="#3c3c3c"/>
<line x1="483.47" y1="632.7" x2="489.01" y2="645.9" stroke="#3c3c3c" stroke-width="1.61"/>
<line x1="489.01" y1="632.7" x2="483.47" y2="645.9" stroke="#3c3c3c" stroke-width="1.61"/>
<polygon points="489.01,632.7 488.51,637.91 485.65,636.71" fill="#3c3c3c"/>
<polygon points="489.01,645.9 485.65,641.89 488.51,640.69" fill="#3c3c3c"/>
<rect x="404.6" y="631.5" width="90.4" height="15.6" stroke="#3c3c3c" stroke-width="1.3" fill="none"/>
<line x1="427.2" y1="631.5" x2="427.2" y2="647.1" stroke="#3c3c3c" stroke-width="1.3"/>
<line x1="449.8" y1="631.5" x2="449.8" y2="647.1" stroke="#3c3c3c" stroke-width="1.3"/>
<line x1="472.4" y1="631.5" x2="472.4" y2="647.1" stroke="#3c3c3c" stroke-width="1.3"/>
<text x="415" y="630.2" font-size="4.5" text-anchor="middle" font-weight="bold">3</text>
<text x="438.4" y="630.2" font-size="4.5" text-anchor="middle" font-weight="bold">1</text>
<text x="461" y="630.2" font-size="4.5" text-anchor="middle" font-weight="bold">n b a</text>
<text x="482" y="630.2" font-size="4.5" text-anchor="middle" font-weight="bold">2</text>
<circle cx="362.5" cy="637.5" r="1.55" fill="#3c3c3c"/>
<circle cx="362.2" cy="665" r="1.55" fill="#3c3c3c"/>
<text x="371.2" y="665.5" font-size="9.6" stroke="#2a2a2a" stroke-width="0.15" textLength="148.2" lengthAdjust="spacing">только при вход слева (dy8)</text>
<text x="371.2" y="676.5" font-size="9.6" stroke="#2a2a2a" stroke-width="0.15" textLength="152" lengthAdjust="spacing">only for left hand configuration</text>
<line x1="368.3" y1="683.5" x2="528.3" y2="683.5" stroke="#3c3c3c" stroke-width="2"/>
<line x1="368.3" y1="710" x2="528.3" y2="710" stroke="#3c3c3c" stroke-width="2"/>
<line x1="368.3" y1="683.5" x2="368.3" y2="710" stroke="#3c3c3c" stroke-width="1.6"/>
<line x1="393.4" y1="683.5" x2="393.4" y2="710" stroke="#3c3c3c" stroke-width="1.6"/>
<line x1="528.3" y1="683.5" x2="528.3" y2="710" stroke="#3c3c3c" stroke-width="1.6"/>
<text x="378.3" y="704.4" font-size="13.5" text-anchor="middle">L</text>
<circle cx="360.2" cy="697.2" r="1.4" fill="#3c3c3c"/>
<circle cx="363.8" cy="697.2" r="1.4" fill="#3c3c3c"/>
<polygon points="432.51,692.3 430.61,695.4 434.41,695.4" fill="#3c3c3c"/>
<polygon points="432.51,704.3 430.61,701.2 434.41,701.2" fill="#3c3c3c"/>
<line x1="438.27" y1="694.5" x2="438.27" y2="704.9" stroke="#3c3c3c" stroke-width="1.4"/>
<polygon points="438.27,691.7 439.82,696.7 436.72,696.7" fill="#3c3c3c"/>
<line x1="443.81" y1="691.7" x2="443.81" y2="702.1" stroke="#3c3c3c" stroke-width="1.4"/>
<polygon points="443.81,704.9 442.26,699.9 445.36,699.9" fill="#3c3c3c"/>
<line x1="455.11" y1="694.5" x2="455.11" y2="704.9" stroke="#3c3c3c" stroke-width="1.4"/>
<polygon points="455.11,691.7 456.66,696.7 453.56,696.7" fill="#3c3c3c"/>
<polygon points="460.87,692.3 458.97,695.4 462.77,695.4" fill="#3c3c3c"/>
<polygon points="460.87,704.3 458.97,701.2 462.77,701.2" fill="#3c3c3c"/>
<polygon points="466.41,692.3 464.51,695.4 468.31,695.4" fill="#3c3c3c"/>
<polygon points="466.41,704.3 464.51,701.2 468.31,701.2" fill="#3c3c3c"/>
<polygon points="477.71,692.3 475.81,695.4 479.61,695.4" fill="#3c3c3c"/>
<polygon points="477.71,704.3 475.81,701.2 479.61,701.2" fill="#3c3c3c"/>
<line x1="483.47" y1="691.7" x2="489.01" y2="704.9" stroke="#3c3c3c" stroke-width="1.61"/>
<line x1="489.01" y1="691.7" x2="483.47" y2="704.9" stroke="#3c3c3c" stroke-width="1.61"/>
<polygon points="489.01,691.7 488.51,696.91 485.65,695.71" fill="#3c3c3c"/>
<polygon points="489.01,704.9 485.65,700.89 488.51,699.69" fill="#3c3c3c"/>
<line x1="500.31" y1="694.5" x2="500.31" y2="704.9" stroke="#3c3c3c" stroke-width="1.4"/>
<polygon points="500.31,691.7 501.86,696.7 498.76,696.7" fill="#3c3c3c"/>
<line x1="506.07" y1="691.7" x2="506.07" y2="698.3" stroke="#3c3c3c" stroke-width="1.4"/>
<line x1="506.07" y1="698.3" x2="511.61" y2="698.3" stroke="#3c3c3c" stroke-width="1.4"/>
<line x1="511.61" y1="691.7" x2="511.61" y2="701.9" stroke="#3c3c3c" stroke-width="1.4"/>
<polygon points="511.61,704.9 510.06,699.9 513.16,699.9" fill="#3c3c3c"/>
<polygon points="506.07,704.3 504.17,701.2 507.97,701.2" fill="#3c3c3c"/>
<rect x="427.2" y="690.5" width="90.4" height="15.6" stroke="#3c3c3c" stroke-width="1.3" fill="none"/>
<line x1="449.8" y1="690.5" x2="449.8" y2="706.1" stroke="#3c3c3c" stroke-width="1.3"/>
<line x1="472.4" y1="690.5" x2="472.4" y2="706.1" stroke="#3c3c3c" stroke-width="1.3"/>
<line x1="495" y1="690.5" x2="495" y2="706.1" stroke="#3c3c3c" stroke-width="1.3"/>
<text x="438.4" y="689.2" font-size="4.5" text-anchor="middle" font-weight="bold">1</text>
<text x="461" y="689.2" font-size="4.5" text-anchor="middle" font-weight="bold">n b a</text>
<text x="482" y="689.2" font-size="4.5" text-anchor="middle" font-weight="bold">2</text>
<text x="506" y="689.2" font-size="4.5" text-anchor="middle" font-weight="bold">3</text>
<circle cx="360.2" cy="723.2" r="1.4" fill="#3c3c3c"/>
<circle cx="363.8" cy="723.2" r="1.4" fill="#3c3c3c"/>
<text x="370.2" y="725" font-size="9.6" stroke="#2a2a2a" stroke-width="0.15" textLength="153.5" lengthAdjust="spacing">только при вход справо (dy8)</text>
<text x="370.2" y="737.6" font-size="9.6" stroke="#2a2a2a" stroke-width="0.15" textLength="159.2" lengthAdjust="spacing">only for right hand configuration</text>
<text x="789.8" y="166.7" font-size="12" textLength="41.8" lengthAdjust="spacing">Table 6</text>
<line x1="698.5" y1="172.2" x2="858.2" y2="172.2" stroke="#3c3c3c" stroke-width="1.6"/>
<line x1="698.5" y1="197.5" x2="858.2" y2="197.5" stroke="#3c3c3c" stroke-width="2.4"/>
<line x1="698.5" y1="223.87" x2="858.2" y2="223.87" stroke="#3c3c3c" stroke-width="2.4"/>
<line x1="698.5" y1="250.25" x2="858.2" y2="250.25" stroke="#3c3c3c" stroke-width="2.4"/>
<line x1="698.5" y1="276.62" x2="858.2" y2="276.62" stroke="#3c3c3c" stroke-width="2.4"/>
<line x1="698.5" y1="302.99" x2="858.2" y2="302.99" stroke="#3c3c3c" stroke-width="2.4"/>
<line x1="698.5" y1="329.36" x2="858.2" y2="329.36" stroke="#3c3c3c" stroke-width="2.4"/>
<line x1="698.5" y1="355.74" x2="858.2" y2="355.74" stroke="#3c3c3c" stroke-width="2.4"/>
<line x1="698.5" y1="382.11" x2="858.2" y2="382.11" stroke="#3c3c3c" stroke-width="2.4"/>
<line x1="698.5" y1="408.48" x2="858.2" y2="408.48" stroke="#3c3c3c" stroke-width="2.4"/>
<line x1="698.5" y1="434.85" x2="858.2" y2="434.85" stroke="#3c3c3c" stroke-width="2.4"/>
<line x1="698.5" y1="461.23" x2="858.2" y2="461.23" stroke="#3c3c3c" stroke-width="2.4"/>
<line x1="698.5" y1="487.6" x2="858.2" y2="487.6" stroke="#3c3c3c" stroke-width="1.8"/>
<line x1="698.5" y1="172.2" x2="698.5" y2="487.6" stroke="#3c3c3c" stroke-width="1.6"/>
<line x1="723.3" y1="172.2" x2="723.3" y2="487.6" stroke="#3c3c3c" stroke-width="1.6"/>
<line x1="858.2" y1="172.2" x2="858.2" y2="487.6" stroke="#3c3c3c" stroke-width="1.6"/>
<text x="699.9" y="191.4" font-size="9.5" textLength="21.5" lengthAdjust="spacing">code</text>
<text x="747" y="190.9" font-size="12.5" textLength="77.9" lengthAdjust="spacing">spool control</text>
<text x="708.5" y="217.9" font-size="14" text-anchor="middle">1</text>
<polyline points="731.4,214.7 731.4,207.7 734.82,214.7 738.24,207.7 741.66,214.7 745.08,207.7 748.5,214.7 748.5,207.7" stroke="#3c3c3c" stroke-width="1.15" fill="none"/>
<line x1="751.2" y1="206.5" x2="751.2" y2="217.2" stroke="#3c3c3c" stroke-width="1.2"/>
<polyline points="753.5,214.7 753.5,207.7 756.96,214.7 760.42,207.7 763.88,214.7 767.34,207.7 770.8,214.7 770.8,207.7" stroke="#3c3c3c" stroke-width="1.15" fill="none"/>
<text x="737.5" y="206.5" font-size="8" text-anchor="middle">1</text>
<text x="751.2" y="206.5" font-size="8" text-anchor="middle" font-weight="bold" font-style="italic">0</text>
<text x="765.6" y="206.5" font-size="8" text-anchor="middle">2</text>
<rect x="789.2" y="203.6" width="48.9" height="15.8" stroke="#3c3c3c" stroke-width="1.3" fill="none"/>
<line x1="805.5" y1="203.6" x2="805.5" y2="219.4" stroke="#3c3c3c" stroke-width="1.3"/>
<line x1="821.8" y1="203.6" x2="821.8" y2="219.4" stroke="#3c3c3c" stroke-width="1.3"/>
<text x="797.85" y="217.2" font-size="10.2" text-anchor="middle">1</text>
<text x="814.15" y="217.2" font-size="12.6" stroke="#2a2a2a" stroke-width="0.75" text-anchor="middle" font-style="italic">0</text>
<text x="830.45" y="217.2" font-size="10.2" text-anchor="middle">2</text>
<text x="708.5" y="244.27" font-size="14" text-anchor="middle">2</text>
<polyline points="735.2,236.47 737.5,240.67 739.8,236.47" stroke="#2e2e2e" stroke-width="1.3" fill="none"/>
<line x1="732" y1="236.77" x2="735.3" y2="236.77" stroke="#9a7a9a" stroke-width="0.9"/>
<line x1="739.7" y1="236.77" x2="743" y2="236.77" stroke="#9a7a9a" stroke-width="0.9"/>
<line x1="751.2" y1="232.87" x2="751.2" y2="243.57" stroke="#3c3c3c" stroke-width="1.2"/>
<polyline points="753.5,241.07 753.5,234.07 756.96,241.07 760.42,234.07 763.88,241.07 767.34,234.07 770.8,241.07 770.8,234.07" stroke="#3c3c3c" stroke-width="1.15" fill="none"/>
<text x="737.5" y="232.87" font-size="8" text-anchor="middle" font-weight="bold" font-style="italic">1</text>
<text x="751.2" y="232.87" font-size="8" text-anchor="middle">0</text>
<text x="765.6" y="232.87" font-size="8" text-anchor="middle">2</text>
<rect x="789.2" y="229.97" width="48.9" height="15.8" stroke="#3c3c3c" stroke-width="1.3" fill="none"/>
<line x1="805.5" y1="229.97" x2="805.5" y2="245.77" stroke="#3c3c3c" stroke-width="1.3"/>
<line x1="821.8" y1="229.97" x2="821.8" y2="245.77" stroke="#3c3c3c" stroke-width="1.3"/>
<text x="797.85" y="243.57" font-size="12.6" stroke="#2a2a2a" stroke-width="0.75" text-anchor="middle" font-style="italic">1</text>
<text x="814.15" y="243.57" font-size="12.6" stroke="#2a2a2a" stroke-width="0.75" text-anchor="middle" font-style="italic">0</text>
<text x="830.45" y="243.57" font-size="10.2" text-anchor="middle">2</text>
<text x="708.5" y="270.65" font-size="14" text-anchor="middle">3</text>
<polyline points="731.4,267.45 731.4,260.45 734.82,267.45 738.24,260.45 741.66,267.45 745.08,260.45 748.5,267.45 748.5,260.45" stroke="#3c3c3c" stroke-width="1.15" fill="none"/>
<line x1="751.2" y1="259.25" x2="751.2" y2="269.95" stroke="#3c3c3c" stroke-width="1.2"/>
<polyline points="762.3,262.85 764.6,267.05 766.9,262.85" stroke="#2e2e2e" stroke-width="1.3" fill="none"/>
<line x1="759.1" y1="263.15" x2="762.4" y2="263.15" stroke="#9a7a9a" stroke-width="0.9"/>
<line x1="766.8" y1="263.15" x2="770.1" y2="263.15" stroke="#9a7a9a" stroke-width="0.9"/>
<text x="737.5" y="259.25" font-size="8" text-anchor="middle">1</text>
<text x="751.2" y="259.25" font-size="8" text-anchor="middle">0</text>
<text x="765.6" y="259.25" font-size="8" text-anchor="middle" font-weight="bold" font-style="italic">2</text>
<rect x="789.2" y="256.35" width="48.9" height="15.8" stroke="#3c3c3c" stroke-width="1.3" fill="none"/>
<line x1="805.5" y1="256.35" x2="805.5" y2="272.15" stroke="#3c3c3c" stroke-width="1.3"/>
<line x1="821.8" y1="256.35" x2="821.8" y2="272.15" stroke="#3c3c3c" stroke-width="1.3"/>
<text x="797.85" y="269.95" font-size="10.2" text-anchor="middle">1</text>
<text x="814.15" y="269.95" font-size="12.6" stroke="#2a2a2a" stroke-width="0.75" text-anchor="middle" font-style="italic">0</text>
<text x="830.45" y="269.95" font-size="12.6" stroke="#2a2a2a" stroke-width="0.75" text-anchor="middle" font-style="italic">2</text>
<text x="708.5" y="297.02" font-size="14" text-anchor="middle">4</text>
<line x1="751.2" y1="285.62" x2="751.2" y2="296.32" stroke="#3c3c3c" stroke-width="1.2"/>
<polyline points="753.5,293.82 753.5,286.82 756.96,293.82 760.42,286.82 763.88,293.82 767.34,286.82 770.8,293.82 770.8,286.82" stroke="#3c3c3c" stroke-width="1.15" fill="none"/>
<text x="751.2" y="285.62" font-size="8" text-anchor="middle" font-weight="bold" font-style="italic">0</text>
<text x="765.6" y="285.62" font-size="8" text-anchor="middle">2</text>
<rect x="805.5" y="282.72" width="32.6" height="15.8" stroke="#3c3c3c" stroke-width="1.3" fill="none"/>
<line x1="821.8" y1="282.72" x2="821.8" y2="298.52" stroke="#3c3c3c" stroke-width="1.3"/>
<text x="814.15" y="296.32" font-size="12.6" stroke="#2a2a2a" stroke-width="0.75" text-anchor="middle" font-style="italic">0</text>
<text x="830.45" y="296.32" font-size="10.2" text-anchor="middle">2</text>
<text x="708.5" y="323.39" font-size="14" text-anchor="middle">5</text>
<polyline points="731.4,320.19 731.4,313.19 734.82,320.19 738.24,313.19 741.66,320.19 745.08,313.19 748.5,320.19 748.5,313.19" stroke="#3c3c3c" stroke-width="1.15" fill="none"/>
<line x1="751.2" y1="311.99" x2="751.2" y2="322.69" stroke="#3c3c3c" stroke-width="1.2"/>
<text x="737.5" y="311.99" font-size="8" text-anchor="middle">1</text>
<text x="751.2" y="311.99" font-size="8" text-anchor="middle" font-weight="bold" font-style="italic">0</text>
<rect x="789.2" y="309.09" width="32.6" height="15.8" stroke="#3c3c3c" stroke-width="1.3" fill="none"/>
<line x1="805.5" y1="309.09" x2="805.5" y2="324.89" stroke="#3c3c3c" stroke-width="1.3"/>
<text x="797.85" y="322.69" font-size="10.2" text-anchor="middle">1</text>
<text x="814.15" y="322.69" font-size="12.6" stroke="#2a2a2a" stroke-width="0.75" text-anchor="middle" font-style="italic">0</text>
<text x="708.5" y="349.76" font-size="14" text-anchor="middle">6</text>
<line x1="730" y1="338.36" x2="730" y2="349.06" stroke="#3c3c3c" stroke-width="1.2"/>
<polyline points="732,346.56 732,339.56 735.53,346.56 739.05,339.56 742.58,346.56 746.11,339.56 749.64,346.56 753.16,339.56 756.69,346.56 760.22,339.56 763.75,346.56 767.27,339.56 770.8,346.56 770.8,339.56" stroke="#3c3c3c" stroke-width="1.15" fill="none"/>
<text x="737.5" y="338.36" font-size="8" text-anchor="middle" font-weight="bold" font-style="italic">1</text>
<text x="765.6" y="338.36" font-size="8" text-anchor="middle">2</text>
<rect x="789.2" y="335.46" width="48.9" height="15.8" stroke="#3c3c3c" stroke-width="1.3" fill="none"/>
<line x1="805.5" y1="335.46" x2="805.5" y2="351.26" stroke="#3c3c3c" stroke-width="1.3"/>
<line x1="821.8" y1="335.46" x2="821.8" y2="351.26" stroke="#3c3c3c" stroke-width="1.3"/>
<text x="797.85" y="349.06" font-size="12.6" stroke="#2a2a2a" stroke-width="0.75" text-anchor="middle" font-style="italic">1</text>
<text x="830.45" y="349.06" font-size="10.2" text-anchor="middle">2</text>
<text x="708.5" y="376.14" font-size="14" text-anchor="middle">7</text>
<polyline points="731.4,372.94 731.4,365.94 734.82,372.94 738.24,365.94 741.65,372.94 745.07,365.94 748.49,372.94 751.91,365.94 755.33,372.94 758.75,365.94 762.16,372.94 765.58,365.94 769,372.94 769,365.94" stroke="#3c3c3c" stroke-width="1.15" fill="none"/>
<line x1="771.7" y1="364.74" x2="771.7" y2="375.44" stroke="#3c3c3c" stroke-width="1.2"/>
<text x="737.5" y="364.74" font-size="8" text-anchor="middle">1</text>
<text x="765.6" y="364.74" font-size="8" text-anchor="middle" font-weight="bold" font-style="italic">2</text>
<rect x="789.2" y="361.84" width="48.9" height="15.8" stroke="#3c3c3c" stroke-width="1.3" fill="none"/>
<line x1="805.5" y1="361.84" x2="805.5" y2="377.64" stroke="#3c3c3c" stroke-width="1.3"/>
<line x1="821.8" y1="361.84" x2="821.8" y2="377.64" stroke="#3c3c3c" stroke-width="1.3"/>
<text x="797.85" y="375.44" font-size="10.2" text-anchor="middle">1</text>
<text x="830.45" y="375.44" font-size="12.6" stroke="#2a2a2a" stroke-width="0.75" text-anchor="middle" font-style="italic">2</text>
<text x="708.5" y="402.51" font-size="14" text-anchor="middle">8</text>
<polyline points="735.2,394.71 737.5,398.91 739.8,394.71" stroke="#2e2e2e" stroke-width="1.3" fill="none"/>
<line x1="732" y1="395.01" x2="735.3" y2="395.01" stroke="#9a7a9a" stroke-width="0.9"/>
<line x1="739.7" y1="395.01" x2="743" y2="395.01" stroke="#9a7a9a" stroke-width="0.9"/>
<polyline points="748.9,394.71 751.2,398.91 753.5,394.71" stroke="#2e2e2e" stroke-width="1.3" fill="none"/>
<line x1="745.7" y1="395.01" x2="749" y2="395.01" stroke="#9a7a9a" stroke-width="0.9"/>
<line x1="753.4" y1="395.01" x2="756.7" y2="395.01" stroke="#9a7a9a" stroke-width="0.9"/>
<polyline points="763.3,394.71 765.6,398.91 767.9,394.71" stroke="#2e2e2e" stroke-width="1.3" fill="none"/>
<line x1="760.1" y1="395.01" x2="763.4" y2="395.01" stroke="#9a7a9a" stroke-width="0.9"/>
<line x1="767.8" y1="395.01" x2="771.1" y2="395.01" stroke="#9a7a9a" stroke-width="0.9"/>
<text x="737.5" y="391.11" font-size="8" text-anchor="middle" font-weight="bold" font-style="italic">1</text>
<text x="751.2" y="391.11" font-size="8" text-anchor="middle" font-weight="bold" font-style="italic">0</text>
<text x="765.6" y="391.11" font-size="8" text-anchor="middle" font-weight="bold" font-style="italic">2</text>
<rect x="789.2" y="388.21" width="48.9" height="15.8" stroke="#3c3c3c" stroke-width="1.3" fill="none"/>
<line x1="805.5" y1="388.21" x2="805.5" y2="404.01" stroke="#3c3c3c" stroke-width="1.3"/>
<line x1="821.8" y1="388.21" x2="821.8" y2="404.01" stroke="#3c3c3c" stroke-width="1.3"/>
<text x="797.85" y="401.81" font-size="12.6" stroke="#2a2a2a" stroke-width="0.75" text-anchor="middle" font-style="italic">1</text>
<text x="814.15" y="401.81" font-size="12.6" stroke="#2a2a2a" stroke-width="0.75" text-anchor="middle" font-style="italic">0</text>
<text x="830.45" y="401.81" font-size="12.6" stroke="#2a2a2a" stroke-width="0.75" text-anchor="middle" font-style="italic">2</text>
<text x="708.5" y="428.88" font-size="14" text-anchor="middle">9</text>
<polyline points="735.2,421.08 737.5,425.28 739.8,421.08" stroke="#2e2e2e" stroke-width="1.3" fill="none"/>
<line x1="732" y1="421.38" x2="735.3" y2="421.38" stroke="#9a7a9a" stroke-width="0.9"/>
<line x1="739.7" y1="421.38" x2="743" y2="421.38" stroke="#9a7a9a" stroke-width="0.9"/>
<polyline points="748.9,421.08 751.2,425.28 753.5,421.08" stroke="#2e2e2e" stroke-width="1.3" fill="none"/>
<line x1="745.7" y1="421.38" x2="749" y2="421.38" stroke="#9a7a9a" stroke-width="0.9"/>
<line x1="753.4" y1="421.38" x2="756.7" y2="421.38" stroke="#9a7a9a" stroke-width="0.9"/>
<text x="737.5" y="417.48" font-size="8" text-anchor="middle" font-weight="bold" font-style="italic">1</text>
<text x="751.2" y="417.48" font-size="8" text-anchor="middle" font-weight="bold" font-style="italic">0</text>
<rect x="789.2" y="414.58" width="32.6" height="15.8" stroke="#3c3c3c" stroke-width="1.3" fill="none"/>
<line x1="805.5" y1="414.58" x2="805.5" y2="430.38" stroke="#3c3c3c" stroke-width="1.3"/>
<text x="797.85" y="428.18" font-size="12.6" stroke="#2a2a2a" stroke-width="0.75" text-anchor="middle" font-style="italic">1</text>
<text x="814.15" y="428.18" font-size="12.6" stroke="#2a2a2a" stroke-width="0.75" text-anchor="middle" font-style="italic">0</text>
<text x="708.3" y="455.25" font-size="14" text-anchor="middle">10</text>
<polyline points="748.9,447.45 751.2,451.65 753.5,447.45" stroke="#2e2e2e" stroke-width="1.3" fill="none"/>
<line x1="745.7" y1="447.75" x2="749" y2="447.75" stroke="#9a7a9a" stroke-width="0.9"/>
<line x1="753.4" y1="447.75" x2="756.7" y2="447.75" stroke="#9a7a9a" stroke-width="0.9"/>
<polyline points="763.3,447.45 765.6,451.65 767.9,447.45" stroke="#2e2e2e" stroke-width="1.3" fill="none"/>
<line x1="760.1" y1="447.75" x2="763.4" y2="447.75" stroke="#9a7a9a" stroke-width="0.9"/>
<line x1="767.8" y1="447.75" x2="771.1" y2="447.75" stroke="#9a7a9a" stroke-width="0.9"/>
<text x="751.2" y="443.85" font-size="8" text-anchor="middle" font-weight="bold" font-style="italic">0</text>
<text x="765.6" y="443.85" font-size="8" text-anchor="middle" font-weight="bold" font-style="italic">2</text>
<rect x="805.5" y="440.95" width="32.6" height="15.8" stroke="#3c3c3c" stroke-width="1.3" fill="none"/>
<line x1="821.8" y1="440.95" x2="821.8" y2="456.75" stroke="#3c3c3c" stroke-width="1.3"/>
<text x="814.15" y="454.55" font-size="12.6" stroke="#2a2a2a" stroke-width="0.75" text-anchor="middle" font-style="italic">0</text>
<text x="830.45" y="454.55" font-size="12.6" stroke="#2a2a2a" stroke-width="0.75" text-anchor="middle" font-style="italic">2</text>
<text x="708.3" y="481.63" font-size="14" text-anchor="middle">11</text>
<polyline points="735.2,473.83 737.5,478.03 739.8,473.83" stroke="#2e2e2e" stroke-width="1.3" fill="none"/>
<line x1="732" y1="474.13" x2="735.3" y2="474.13" stroke="#9a7a9a" stroke-width="0.9"/>
<line x1="739.7" y1="474.13" x2="743" y2="474.13" stroke="#9a7a9a" stroke-width="0.9"/>
<polyline points="763.3,473.83 765.6,478.03 767.9,473.83" stroke="#2e2e2e" stroke-width="1.3" fill="none"/>
<line x1="760.1" y1="474.13" x2="763.4" y2="474.13" stroke="#9a7a9a" stroke-width="0.9"/>
<line x1="767.8" y1="474.13" x2="771.1" y2="474.13" stroke="#9a7a9a" stroke-width="0.9"/>
<line x1="745" y1="473.93" x2="757" y2="473.93" stroke="#3c3c3c" stroke-width="1"/>
<text x="737.5" y="470.23" font-size="8" text-anchor="middle" font-weight="bold" font-style="italic">1</text>
<text x="765.6" y="470.23" font-size="8" text-anchor="middle" font-weight="bold" font-style="italic">2</text>
<rect x="789.2" y="467.33" width="48.9" height="15.8" stroke="#3c3c3c" stroke-width="1.3" fill="none"/>
<line x1="805.5" y1="467.33" x2="805.5" y2="483.13" stroke="#3c3c3c" stroke-width="1.3"/>
<line x1="821.8" y1="467.33" x2="821.8" y2="483.13" stroke="#3c3c3c" stroke-width="1.3"/>
<text x="797.85" y="480.93" font-size="12.6" stroke="#2a2a2a" stroke-width="0.75" text-anchor="middle" font-style="italic">1</text>
<text x="830.45" y="480.93" font-size="12.6" stroke="#2a2a2a" stroke-width="0.75" text-anchor="middle" font-style="italic">2</text>
<line x1="698.5" y1="544.8" x2="858.6" y2="544.8" stroke="#3c3c3c" stroke-width="1.6"/>
<line x1="698.5" y1="570.4" x2="858.6" y2="570.4" stroke="#3c3c3c" stroke-width="2.6"/>
<line x1="698.5" y1="596" x2="858.6" y2="596" stroke="#3c3c3c" stroke-width="1.6"/>
<line x1="698.5" y1="544.8" x2="698.5" y2="596" stroke="#3c3c3c" stroke-width="1.6"/>
<line x1="723.3" y1="544.8" x2="723.3" y2="596" stroke="#3c3c3c" stroke-width="1.6"/>
<line x1="858.6" y1="544.8" x2="858.6" y2="596" stroke="#3c3c3c" stroke-width="1.6"/>
<text x="710" y="563.8" font-size="13" text-anchor="middle">15</text>
<text x="710" y="591.3" font-size="13" text-anchor="middle">16</text>
<circle cx="691.4" cy="559" r="1.55" fill="#3c3c3c"/>
<circle cx="691.4" cy="585.6" r="1.55" fill="#3c3c3c"/>
<text x="728.5" y="552.8" font-size="8" text-anchor="middle" font-weight="bold" font-style="italic">3</text>
<polyline points="726.2,556 728.5,560.2 730.8,556" stroke="#2e2e2e" stroke-width="1.3" fill="none"/>
<line x1="723" y1="556.3" x2="726.3" y2="556.3" stroke="#9a7a9a" stroke-width="0.9"/>
<line x1="730.7" y1="556.3" x2="734" y2="556.3" stroke="#9a7a9a" stroke-width="0.9"/>
<text x="739.9" y="552.8" font-size="8" text-anchor="middle" font-weight="bold" font-style="italic">1</text>
<polyline points="737.6,556 739.9,560.2 742.2,556" stroke="#2e2e2e" stroke-width="1.3" fill="none"/>
<line x1="734.4" y1="556.3" x2="737.7" y2="556.3" stroke="#9a7a9a" stroke-width="0.9"/>
<line x1="742.1" y1="556.3" x2="745.4" y2="556.3" stroke="#9a7a9a" stroke-width="0.9"/>
<text x="752.2" y="552.8" font-size="8" text-anchor="middle" font-weight="bold" font-style="italic">0</text>
<polyline points="749.9,556 752.2,560.2 754.5,556" stroke="#2e2e2e" stroke-width="1.3" fill="none"/>
<line x1="746.7" y1="556.3" x2="750" y2="556.3" stroke="#9a7a9a" stroke-width="0.9"/>
<line x1="754.4" y1="556.3" x2="757.7" y2="556.3" stroke="#9a7a9a" stroke-width="0.9"/>
<text x="766.5" y="552.8" font-size="8" text-anchor="middle" font-weight="bold" font-style="italic">2</text>
<polyline points="764.2,556 766.5,560.2 768.8,556" stroke="#2e2e2e" stroke-width="1.3" fill="none"/>
<line x1="761" y1="556.3" x2="764.3" y2="556.3" stroke="#9a7a9a" stroke-width="0.9"/>
<line x1="768.7" y1="556.3" x2="772" y2="556.3" stroke="#9a7a9a" stroke-width="0.9"/>
<rect x="773.1" y="549.5" width="65" height="15.2" stroke="#3c3c3c" stroke-width="1.3" fill="none"/>
<line x1="789.35" y1="549.5" x2="789.35" y2="564.7" stroke="#3c3c3c" stroke-width="1.3"/>
<line x1="805.6" y1="549.5" x2="805.6" y2="564.7" stroke="#3c3c3c" stroke-width="1.3"/>
<line x1="821.85" y1="549.5" x2="821.85" y2="564.7" stroke="#3c3c3c" stroke-width="1.3"/>
<text x="781.73" y="562.5" font-size="13.65" stroke="#2a2a2a" stroke-width="0.75" text-anchor="middle" font-style="italic">3</text>
<text x="797.98" y="562.5" font-size="13.65" stroke="#2a2a2a" stroke-width="0.75" text-anchor="middle" font-style="italic">1</text>
<text x="814.23" y="562.5" font-size="13.65" stroke="#2a2a2a" stroke-width="0.75" text-anchor="middle" font-style="italic">0</text>
<text x="830.48" y="562.5" font-size="13.65" stroke="#2a2a2a" stroke-width="0.75" text-anchor="middle" font-style="italic">2</text>
<text x="728.5" y="578.8" font-size="8" text-anchor="middle" font-weight="bold" font-style="italic">3</text>
<text x="739.9" y="578.8" font-size="8" text-anchor="middle">1</text>
<text x="752.2" y="578.8" font-size="8" text-anchor="middle">0</text>
<text x="766.5" y="578.8" font-size="8" text-anchor="middle">2</text>
<polyline points="726.2,581 728.5,585.2 730.8,581" stroke="#2e2e2e" stroke-width="1.3" fill="none"/>
<line x1="723" y1="581.3" x2="726.3" y2="581.3" stroke="#9a7a9a" stroke-width="0.9"/>
<line x1="730.7" y1="581.3" x2="734" y2="581.3" stroke="#9a7a9a" stroke-width="0.9"/>
<polyline points="733,587.5 733,580.5 736.4,587.5 739.8,580.5 743.2,587.5 746.6,580.5 750,587.5 750,580.5" stroke="#3c3c3c" stroke-width="1.15" fill="none"/>
<line x1="752.2" y1="579" x2="752.2" y2="591" stroke="#3c3c3c" stroke-width="1.2"/>
<polyline points="754,587.5 754,580.5 757.2,587.5 760.4,580.5 763.6,587.5 766.8,580.5 770,587.5 770,580.5" stroke="#3c3c3c" stroke-width="1.15" fill="none"/>
<rect x="773.1" y="575.2" width="65" height="15.2" stroke="#3c3c3c" stroke-width="1.3" fill="none"/>
<line x1="789.35" y1="575.2" x2="789.35" y2="590.4" stroke="#3c3c3c" stroke-width="1.3"/>
<line x1="805.6" y1="575.2" x2="805.6" y2="590.4" stroke="#3c3c3c" stroke-width="1.3"/>
<line x1="821.85" y1="575.2" x2="821.85" y2="590.4" stroke="#3c3c3c" stroke-width="1.3"/>
<text x="781.73" y="588.2" font-size="13.65" stroke="#2a2a2a" stroke-width="0.75" text-anchor="middle" font-style="italic">3</text>
<text x="797.98" y="588.2" font-size="11.05" text-anchor="middle">1</text>
<text x="814.23" y="588.2" font-size="11.05" text-anchor="middle">0</text>
<text x="830.48" y="588.2" font-size="11.05" text-anchor="middle">2</text>
<circle cx="690.5" cy="612" r="1.55" fill="#3c3c3c"/>
<text x="699" y="612.4" font-size="9.6" stroke="#2a2a2a" stroke-width="0.15" textLength="116.9" lengthAdjust="spacing">только при вход слева</text>
<text x="699" y="623.7" font-size="9.6" stroke="#2a2a2a" stroke-width="0.15" textLength="153.5" lengthAdjust="spacing">only for left hand configuration</text>
<line x1="698.5" y1="632.7" x2="858.6" y2="632.7" stroke="#3c3c3c" stroke-width="1.6"/>
<line x1="698.5" y1="657" x2="858.6" y2="657" stroke="#3c3c3c" stroke-width="2.6"/>
<line x1="698.5" y1="682" x2="858.6" y2="682" stroke="#3c3c3c" stroke-width="1.6"/>
<line x1="698.5" y1="632.7" x2="698.5" y2="682" stroke="#3c3c3c" stroke-width="1.6"/>
<line x1="723.3" y1="632.7" x2="723.3" y2="682" stroke="#3c3c3c" stroke-width="1.6"/>
<line x1="858.6" y1="632.7" x2="858.6" y2="682" stroke="#3c3c3c" stroke-width="1.6"/>
<text x="710" y="651.3" font-size="13" text-anchor="middle">12</text>
<text x="710" y="675" font-size="13" text-anchor="middle">13</text>
<circle cx="689.2" cy="646.5" r="1.4" fill="#3c3c3c"/>
<circle cx="693" cy="646.5" r="1.4" fill="#3c3c3c"/>
<circle cx="689.2" cy="670.7" r="1.4" fill="#3c3c3c"/>
<circle cx="693" cy="670.7" r="1.4" fill="#3c3c3c"/>
<polyline points="731.3,649 731.3,642.2 734.92,649 738.54,642.2 742.16,649 745.78,642.2 749.4,649 749.4,642.2" stroke="#3c3c3c" stroke-width="1.15" fill="none"/>
<line x1="751.5" y1="637" x2="751.5" y2="652.5" stroke="#3c3c3c" stroke-width="1.2"/>
<polyline points="753,649 753,642.2 756.26,649 759.52,642.2 762.78,649 766.04,642.2 769.3,649 769.3,642.2" stroke="#3c3c3c" stroke-width="1.15" fill="none"/>
<polyline points="776.5,644.6 778.8,648.8 781.1,644.6" stroke="#2e2e2e" stroke-width="1.3" fill="none"/>
<line x1="773.3" y1="644.9" x2="776.6" y2="644.9" stroke="#9a7a9a" stroke-width="0.9"/>
<line x1="781" y1="644.9" x2="784.3" y2="644.9" stroke="#9a7a9a" stroke-width="0.9"/>
<text x="737.5" y="640" font-size="8" text-anchor="middle">1</text>
<text x="751.2" y="640" font-size="8" text-anchor="middle">0</text>
<text x="765.6" y="640" font-size="8" text-anchor="middle">2</text>
<text x="778.8" y="640" font-size="8" text-anchor="middle" font-weight="bold" font-style="italic">3</text>
<rect x="789.3" y="637.4" width="65.1" height="15.8" stroke="#3c3c3c" stroke-width="1.3" fill="none"/>
<line x1="805.57" y1="637.4" x2="805.57" y2="653.2" stroke="#3c3c3c" stroke-width="1.3"/>
<line x1="821.85" y1="637.4" x2="821.85" y2="653.2" stroke="#3c3c3c" stroke-width="1.3"/>
<line x1="838.12" y1="637.4" x2="838.12" y2="653.2" stroke="#3c3c3c" stroke-width="1.3"/>
<text x="797.94" y="651" font-size="11.05" text-anchor="middle">1</text>
<text x="814.21" y="651" font-size="11.05" text-anchor="middle">0</text>
<text x="830.49" y="651" font-size="11.05" text-anchor="middle">2</text>
<text x="846.76" y="651" font-size="13.65" stroke="#2a2a2a" stroke-width="0.75" text-anchor="middle" font-style="italic">3</text>
<text x="737" y="664.6" font-size="8" text-anchor="middle" font-weight="bold" font-style="italic">1</text>
<polyline points="734.7,668.4 737,672.6 739.3,668.4" stroke="#2e2e2e" stroke-width="1.3" fill="none"/>
<line x1="731.5" y1="668.7" x2="734.8" y2="668.7" stroke="#9a7a9a" stroke-width="0.9"/>
<line x1="739.2" y1="668.7" x2="742.5" y2="668.7" stroke="#9a7a9a" stroke-width="0.9"/>
<text x="750.7" y="664.6" font-size="8" text-anchor="middle" font-weight="bold" font-style="italic">0</text>
<polyline points="748.4,668.4 750.7,672.6 753,668.4" stroke="#2e2e2e" stroke-width="1.3" fill="none"/>
<line x1="745.2" y1="668.7" x2="748.5" y2="668.7" stroke="#9a7a9a" stroke-width="0.9"/>
<line x1="752.9" y1="668.7" x2="756.2" y2="668.7" stroke="#9a7a9a" stroke-width="0.9"/>
<text x="765" y="664.6" font-size="8" text-anchor="middle" font-weight="bold" font-style="italic">2</text>
<polyline points="762.7,668.4 765,672.6 767.3,668.4" stroke="#2e2e2e" stroke-width="1.3" fill="none"/>
<line x1="759.5" y1="668.7" x2="762.8" y2="668.7" stroke="#9a7a9a" stroke-width="0.9"/>
<line x1="767.2" y1="668.7" x2="770.5" y2="668.7" stroke="#9a7a9a" stroke-width="0.9"/>
<text x="778.4" y="664.6" font-size="8" text-anchor="middle" font-weight="bold" font-style="italic">3</text>
<polyline points="776.1,668.4 778.4,672.6 780.7,668.4" stroke="#2e2e2e" stroke-width="1.3" fill="none"/>
<line x1="772.9" y1="668.7" x2="776.2" y2="668.7" stroke="#9a7a9a" stroke-width="0.9"/>
<line x1="780.6" y1="668.7" x2="783.9" y2="668.7" stroke="#9a7a9a" stroke-width="0.9"/>
<rect x="789.3" y="661.8" width="65.1" height="15.8" stroke="#3c3c3c" stroke-width="1.3" fill="none"/>
<line x1="805.57" y1="661.8" x2="805.57" y2="677.6" stroke="#3c3c3c" stroke-width="1.3"/>
<line x1="821.85" y1="661.8" x2="821.85" y2="677.6" stroke="#3c3c3c" stroke-width="1.3"/>
<line x1="838.12" y1="661.8" x2="838.12" y2="677.6" stroke="#3c3c3c" stroke-width="1.3"/>
<text x="797.94" y="675.4" font-size="13.65" stroke="#2a2a2a" stroke-width="0.75" text-anchor="middle" font-style="italic">1</text>
<text x="814.21" y="675.4" font-size="13.65" stroke="#2a2a2a" stroke-width="0.75" text-anchor="middle" font-style="italic">0</text>
<text x="830.49" y="675.4" font-size="13.65" stroke="#2a2a2a" stroke-width="0.75" text-anchor="middle" font-style="italic">2</text>
<text x="846.76" y="675.4" font-size="13.65" stroke="#2a2a2a" stroke-width="0.75" text-anchor="middle" font-style="italic">3</text>
<circle cx="689.2" cy="691" r="1.4" fill="#3c3c3c"/>
<circle cx="693" cy="691" r="1.4" fill="#3c3c3c"/>
<text x="700" y="694.4" font-size="9.6" stroke="#2a2a2a" stroke-width="0.15" textLength="122.5" lengthAdjust="spacing">только при вход справо</text>
<text x="698" y="704.5" font-size="9.6" stroke="#2a2a2a" stroke-width="0.15" textLength="159" lengthAdjust="spacing">only for right hand configuration</text>
<text x="784.4" y="747.7" font-size="10.5" textLength="35.1" lengthAdjust="spacing">Table 7</text>
<line x1="368.8" y1="753" x2="858.5" y2="753" stroke="#3c3c3c" stroke-width="1.6"/>
<line x1="368.8" y1="776.3" x2="858.5" y2="776.3" stroke="#3c3c3c" stroke-width="1.6"/>
<line x1="368.8" y1="844.5" x2="858.5" y2="844.5" stroke="#3c3c3c" stroke-width="1.6"/>
<line x1="368.8" y1="753" x2="368.8" y2="844.5" stroke="#3c3c3c" stroke-width="1.6"/>
<line x1="408" y1="753" x2="408" y2="844.5" stroke="#3c3c3c" stroke-width="1.6"/>
<line x1="858.5" y1="753" x2="858.5" y2="844.5" stroke="#3c3c3c" stroke-width="1.6"/>
<line x1="574.5" y1="776.3" x2="574.5" y2="844.5" stroke="#3c3c3c" stroke-width="1.6"/>
<text x="373.8" y="770" font-size="12" textLength="27" lengthAdjust="spacing">code</text>
<text x="485.5" y="769" font-size="12.5" textLength="271.5" lengthAdjust="spacing">с микро шалмер ; incorporated microswitch</text>
<text x="385.5" y="804.5" font-size="13" text-anchor="middle">E</text>
<text x="583.6" y="794.5" font-size="10" stroke="#2a2a2a" stroke-width="0.12" textLength="81.2" lengthAdjust="spacing">mikroswitch type</text>
<text x="583.6" y="815" font-size="10" stroke="#2a2a2a" stroke-width="0.12" textLength="92.4" lengthAdjust="spacing">Omron-V 165 I C5</text>
<rect x="477.5" y="802.5" width="50.7" height="12.5" stroke="#3c3c3c" stroke-width="1.1" fill="none"/>
<line x1="494.4" y1="802.5" x2="494.4" y2="815" stroke="#3c3c3c" stroke-width="1.1"/>
<line x1="511.3" y1="802.5" x2="511.3" y2="815" stroke="#3c3c3c" stroke-width="1.1"/>
<text x="485.95" y="811.5" font-size="4.5" text-anchor="middle" font-weight="bold">1</text>
<text x="519.75" y="811.5" font-size="4.5" text-anchor="middle" font-weight="bold">2</text>
<text x="502.85" y="801.7" font-size="4.5" text-anchor="middle" font-weight="bold">a b a</text>
<rect x="464.3" y="805" width="13.2" height="8" stroke="#3c3c3c" stroke-width="1" fill="none"/>
<rect x="528.2" y="805" width="8.8" height="8" stroke="#3c3c3c" stroke-width="1" fill="none"/>
<line x1="537" y1="802" x2="537" y2="815" stroke="#3c3c3c" stroke-width="1"/>
<rect x="464.3" y="793.3" width="12" height="7.2" stroke="#3c3c3c" stroke-width="1" fill="none"/>
<line x1="466" y1="795" x2="474.5" y2="799" stroke="#3c3c3c" stroke-width="0.8"/>
<line x1="470.5" y1="800.5" x2="470.5" y2="805" stroke="#3c3c3c" stroke-width="1"/>
<circle cx="470.5" cy="802.5" r="1.55" fill="#3c3c3c"/>
<line x1="803.9" y1="787.2" x2="803.9" y2="836.6" stroke="#3c3c3c" stroke-width="1.2"/>
<line x1="807.8" y1="787.2" x2="807.8" y2="836.6" stroke="#3c3c3c" stroke-width="1"/>
<rect x="807.8" y="798.9" width="31.2" height="37.7" stroke="#3c3c3c" stroke-width="1" fill="none"/>
<line x1="839" y1="786" x2="839" y2="839.2" stroke="#3c3c3c" stroke-width="1.2"/>
<rect x="774" y="787.2" width="28.6" height="18.2" rx="2" stroke="#3c3c3c" stroke-width="1.1" fill="none"/>
<rect x="776" y="784" width="12.3" height="3.2" stroke="#3c3c3c" stroke-width="1" fill="none"/>
<line x1="764.1" y1="791.9" x2="774" y2="791.9" stroke="#3c3c3c" stroke-width="1.1"/>
<line x1="764.1" y1="798.1" x2="774" y2="798.1" stroke="#3c3c3c" stroke-width="1.1"/>
<rect x="787" y="810.6" width="17" height="13" stroke="#3c3c3c" stroke-width="1" fill="none"/>
<line x1="791" y1="810.6" x2="791" y2="823.6" stroke="#3c3c3c" stroke-width="0.8"/>
<line x1="787" y1="817.9" x2="839" y2="817.9" stroke="#c07070" stroke-width="0.8"/>
<line x1="797.4" y1="797" x2="797.4" y2="832" stroke="#c07070" stroke-width="0.8"/>
<circle cx="800.5" cy="791.1" r="3.4" fill="#6a3030"/>
<circle cx="777.9" cy="800.7" r="3.4" fill="#6a3030"/>
<circle cx="797.4" cy="809.5" r="2.2" fill="#222"/>
<text x="774.5" y="880.6" font-size="10.5" textLength="35.5" lengthAdjust="spacing">Table 8</text>
<line x1="368.5" y1="886.6" x2="858.5" y2="886.6" stroke="#3c3c3c" stroke-width="1.6"/>
<line x1="368.5" y1="909.2" x2="858.5" y2="909.2" stroke="#3c3c3c" stroke-width="1.6"/>
<line x1="368.5" y1="947.4" x2="858.5" y2="947.4" stroke="#3c3c3c" stroke-width="1.6"/>
<line x1="368.5" y1="984.6" x2="858.5" y2="984.6" stroke="#3c3c3c" stroke-width="1.6"/>
<line x1="368.5" y1="886.6" x2="368.5" y2="984.6" stroke="#3c3c3c" stroke-width="1.6"/>
<line x1="407.8" y1="886.6" x2="407.8" y2="984.6" stroke="#3c3c3c" stroke-width="1.6"/>
<line x1="858.5" y1="886.6" x2="858.5" y2="984.6" stroke="#3c3c3c" stroke-width="1.6"/>
<line x1="542.7" y1="909.2" x2="542.7" y2="984.6" stroke="#3c3c3c" stroke-width="1.6"/>
<text x="371.9" y="904.5" font-size="12" textLength="27.3" lengthAdjust="spacing">code</text>
<text x="466.3" y="904" font-size="12.5" textLength="236.7" lengthAdjust="spacing">другое управление ; operation feature</text>
<text x="392.7" y="930.5" font-size="13" text-anchor="middle">P</text>
<text x="392.7" y="967.7" font-size="13" text-anchor="middle">H</text>
<text x="550.7" y="922.8" font-size="9.5" stroke="#2a2a2a" stroke-width="0.12" textLength="79.8" lengthAdjust="spacing">пневматическое</text>
<text x="550.7" y="940" font-size="10" stroke="#2a2a2a" stroke-width="0.12" textLength="286.5" lengthAdjust="spacing">on-off pneumatic contol; 5-10 bar ; ports NPTF 1/8-27</text>
<text x="550.7" y="958.9" font-size="9.5" stroke="#2a2a2a" stroke-width="0.12" textLength="76.2" lengthAdjust="spacing">гидравлическое</text>
<text x="550.7" y="977" font-size="10" stroke="#2a2a2a" stroke-width="0.12" textLength="285.7" lengthAdjust="spacing">on-off hydraulic control ; pn = 5 - 20 bar ; ports G1/4</text>
<rect x="469.4" y="924.3" width="50.7" height="12.2" stroke="#3c3c3c" stroke-width="1.1" fill="none"/>
<line x1="486.3" y1="924.3" x2="486.3" y2="936.5" stroke="#3c3c3c" stroke-width="1.1"/>
<line x1="503.2" y1="924.3" x2="503.2" y2="936.5" stroke="#3c3c3c" stroke-width="1.1"/>
<text x="477.85" y="933" font-size="4.5" text-anchor="middle" font-weight="bold">1</text>
<text x="511.65" y="933" font-size="4.5" text-anchor="middle" font-weight="bold">2</text>
<text x="494.75" y="923.5" font-size="4.5" text-anchor="middle" font-weight="bold">a b a</text>
<rect x="454.6" y="926.9" width="14.8" height="7" stroke="#3c3c3c" stroke-width="1" fill="none"/>
<polygon points="456,927.9 456,932.9 461,930.4" fill="#3c3c3c"/>
<polyline points="468.5,927.3 464.5,930.4 468.5,933.5" stroke="#3c3c3c" stroke-width="0.9" fill="none"/>
<line x1="454.6" y1="933.9" x2="454.6" y2="940.9" stroke="#3c3c3c" stroke-width="1"/>
<line x1="467.3" y1="933.9" x2="467.3" y2="940.9" stroke="#3c3c3c" stroke-width="1"/>
<line x1="454.6" y1="936.8" x2="467.3" y2="936.8" stroke="#3c3c3c" stroke-width="1"/>
<rect x="520.1" y="926.9" width="9.1" height="7" stroke="#3c3c3c" stroke-width="1" fill="none"/>
<line x1="529.2" y1="924.3" x2="529.2" y2="936.5" stroke="#3c3c3c" stroke-width="1"/>
<rect x="469.4" y="961.7" width="50.7" height="12.2" stroke="#3c3c3c" stroke-width="1.1" fill="none"/>
<line x1="486.3" y1="961.7" x2="486.3" y2="973.9" stroke="#3c3c3c" stroke-width="1.1"/>
<line x1="503.2" y1="961.7" x2="503.2" y2="973.9" stroke="#3c3c3c" stroke-width="1.1"/>
<text x="477.85" y="970.4" font-size="4.5" text-anchor="middle" font-weight="bold">1</text>
<text x="511.65" y="970.4" font-size="4.5" text-anchor="middle" font-weight="bold">2</text>
<text x="494.75" y="960.9" font-size="4.5" text-anchor="middle" font-weight="bold">a b a</text>
<rect x="454.6" y="964.3" width="14.8" height="7" stroke="#3c3c3c" stroke-width="1" fill="none"/>
<polygon points="456,965.3 456,970.3 461,967.8" fill="#3c3c3c"/>
<polyline points="468.5,964.7 464.5,967.8 468.5,970.9" stroke="#3c3c3c" stroke-width="0.9" fill="none"/>
<line x1="454.6" y1="971.3" x2="454.6" y2="978.3" stroke="#3c3c3c" stroke-width="1"/>
<line x1="467.3" y1="971.3" x2="467.3" y2="978.3" stroke="#3c3c3c" stroke-width="1"/>
<line x1="454.6" y1="974.2" x2="467.3" y2="974.2" stroke="#3c3c3c" stroke-width="1"/>
<rect x="520.1" y="964.3" width="9.1" height="7" stroke="#3c3c3c" stroke-width="1" fill="none"/>
<line x1="529.2" y1="961.7" x2="529.2" y2="973.9" stroke="#3c3c3c" stroke-width="1"/>
<line x1="68" y1="99.6" x2="161" y2="99.6" stroke="#b39797" stroke-width="1.4"/>
<line x1="175" y1="99.6" x2="243.6" y2="99.6" stroke="#b39797" stroke-width="1.4"/>
<line x1="68" y1="131" x2="137" y2="131" stroke="#b39797" stroke-width="1.4"/>
<line x1="149" y1="131" x2="162" y2="131" stroke="#b39797" stroke-width="1.4"/>
<line x1="175" y1="131" x2="243.6" y2="131" stroke="#b39797" stroke-width="1.4"/>
<line x1="68" y1="99.6" x2="68" y2="131" stroke="#b39797" stroke-width="1.4"/>
<line x1="243.6" y1="99.6" x2="243.6" y2="131" stroke="#b39797" stroke-width="1.4"/>
<path d="M68,114.4 H134.2 A2.8,2.8 0 0 0 139.8,114.4 H215" stroke="#3c3c3c" stroke-width="1.25" fill="none"/>
<line x1="137" y1="99.6" x2="137" y2="111.6" stroke="#3c3c3c" stroke-width="1.25"/>
<line x1="137" y1="117.2" x2="137" y2="131" stroke="#3c3c3c" stroke-width="1.25"/>
<line x1="215" y1="99.6" x2="215" y2="131" stroke="#3c3c3c" stroke-width="1.25"/>
<circle cx="137" cy="99.6" r="1.6" fill="#a84848"/>
<circle cx="215" cy="99.6" r="1.6" fill="#a84848"/>
<circle cx="68" cy="114.4" r="1.6" fill="#a84848"/>
<text x="72.4" y="113" font-size="9.5">T2</text>
<text x="131" y="110.5" font-size="9.5">N</text>
<text x="146.8" y="111.6" font-size="9.5" transform="rotate(-90 146.8 111.6)">C1</text>
<text x="157.5" y="111.6" font-size="9.5" transform="rotate(-90 157.5 111.6)">C2</text>
<text x="216.5" y="109" font-size="9.5">T1</text>
<line x1="68" y1="147" x2="137" y2="147" stroke="#b39797" stroke-width="1.4"/>
<line x1="149" y1="147" x2="162" y2="147" stroke="#b39797" stroke-width="1.4"/>
<line x1="175" y1="147" x2="243.6" y2="147" stroke="#b39797" stroke-width="1.4"/>
<line x1="68" y1="178" x2="137" y2="178" stroke="#b39797" stroke-width="1.4"/>
<line x1="149" y1="178" x2="162" y2="178" stroke="#b39797" stroke-width="1.4"/>
<line x1="175" y1="178" x2="243.6" y2="178" stroke="#b39797" stroke-width="1.4"/>
<line x1="68" y1="147" x2="68" y2="178" stroke="#b39797" stroke-width="1.4"/>
<line x1="243.6" y1="147" x2="243.6" y2="178" stroke="#b39797" stroke-width="1.4"/>
<line x1="68" y1="161" x2="215" y2="161" stroke="#3c3c3c" stroke-width="1.25"/>
<line x1="137" y1="147" x2="137" y2="157" stroke="#3c3c3c" stroke-width="1.25"/>
<line x1="132.4" y1="157" x2="141" y2="157" stroke="#3c3c3c" stroke-width="1.25"/>
<line x1="134" y1="165.6" x2="142" y2="165.6" stroke="#3c3c3c" stroke-width="1.25"/>
<line x1="137" y1="165.6" x2="137" y2="178" stroke="#3c3c3c" stroke-width="1.25"/>
<line x1="215" y1="147" x2="215" y2="178" stroke="#3c3c3c" stroke-width="1.25"/>
<circle cx="137" cy="147" r="1.6" fill="#a84848"/>
<circle cx="215" cy="147" r="1.6" fill="#a84848"/>
<circle cx="68" cy="161" r="1.6" fill="#a84848"/>
<text x="72.4" y="160" font-size="9.5">T2</text>
<text x="148" y="155" font-size="9.5" transform="rotate(-90 148 155)">C</text>
<text x="136.5" y="175" font-size="9.5" transform="rotate(-90 136.5 175)">N</text>
<text x="216.5" y="156" font-size="9.5">T1</text>
<line x1="149" y1="195.4" x2="162" y2="195.4" stroke="#b39797" stroke-width="1.4"/>
<line x1="175" y1="195.4" x2="243.6" y2="195.4" stroke="#b39797" stroke-width="1.4"/>
<line x1="149" y1="458" x2="162" y2="458" stroke="#b39797" stroke-width="1.4"/>
<line x1="175" y1="458" x2="243.6" y2="458" stroke="#b39797" stroke-width="1.4"/>
<line x1="68" y1="195.4" x2="137" y2="195.4" stroke="#3c3c3c" stroke-width="1.1"/>
<line x1="68" y1="458" x2="137" y2="458" stroke="#3c3c3c" stroke-width="1.1"/>
<line x1="243.6" y1="195.4" x2="243.6" y2="250" stroke="#b39797" stroke-width="1.4"/>
<line x1="243.6" y1="258.6" x2="243.6" y2="279.6" stroke="#b39797" stroke-width="1.4"/>
<line x1="243.6" y1="286.6" x2="243.6" y2="363.6" stroke="#b39797" stroke-width="1.4"/>
<line x1="243.6" y1="373.4" x2="243.6" y2="386" stroke="#b39797" stroke-width="1.4"/>
<line x1="243.6" y1="398.6" x2="243.6" y2="458" stroke="#b39797" stroke-width="1.4"/>
<line x1="68" y1="195.4" x2="68" y2="458" stroke="#3c3c3c" stroke-width="1.25"/>
<line x1="68" y1="210" x2="215" y2="210" stroke="#3c3c3c" stroke-width="1.25"/>
<line x1="137" y1="195.4" x2="137" y2="458" stroke="#3c3c3c" stroke-width="1.25"/>
<line x1="215" y1="195.4" x2="215" y2="448" stroke="#3c3c3c" stroke-width="1.25"/>
<circle cx="68" cy="210" r="1.6" fill="#a84848"/>
<circle cx="137" cy="210" r="1.4" fill="#3c3c3c"/>
<circle cx="215" cy="210" r="1.4" fill="#3c3c3c"/>
<circle cx="215" cy="195.4" r="1.6" fill="#a84848"/>
<text x="72.4" y="209" font-size="9.5">T2</text>
<text x="216.5" y="204" font-size="9.5">T1</text>
<text x="130" y="218.5" font-size="9.5">N</text>
<line x1="142.4" y1="226.6" x2="191" y2="226.6" stroke="#3c3c3c" stroke-width="1.25"/>
<line x1="142.4" y1="226.6" x2="142.4" y2="247" stroke="#3c3c3c" stroke-width="1.25"/>
<line x1="148" y1="237" x2="191" y2="237" stroke="#3c3c3c" stroke-width="1.25"/>
<line x1="148" y1="237" x2="148" y2="247" stroke="#3c3c3c" stroke-width="1.25"/>
<line x1="148" y1="262" x2="148" y2="276.6" stroke="#3c3c3c" stroke-width="1.25"/>
<line x1="148" y1="276.6" x2="215" y2="276.6" stroke="#3c3c3c" stroke-width="1.25"/>
<polygon points="115.41,248.8 113.51,251.9 117.31,251.9" fill="#3c3c3c"/>
<polygon points="115.41,260.2 113.51,257.1 117.31,257.1" fill="#3c3c3c"/>
<line x1="120.85" y1="251" x2="120.85" y2="260.8" stroke="#3c3c3c" stroke-width="1.1"/>
<polygon points="120.85,248.2 122.4,253.2 119.3,253.2" fill="#3c3c3c"/>
<line x1="126.08" y1="248.2" x2="126.08" y2="258" stroke="#3c3c3c" stroke-width="1.1"/>
<polygon points="126.08,260.8 124.53,255.8 127.63,255.8" fill="#3c3c3c"/>
<polygon points="142.18,248.8 140.28,251.9 144.08,251.9" fill="#3c3c3c"/>
<polygon points="142.18,260.2 140.28,257.1 144.08,257.1" fill="#3c3c3c"/>
<polygon points="147.41,248.8 145.51,251.9 149.31,251.9" fill="#3c3c3c"/>
<polygon points="147.41,260.2 145.51,257.1 149.31,257.1" fill="#3c3c3c"/>
<polygon points="158.07,248.8 156.17,251.9 159.97,251.9" fill="#3c3c3c"/>
<polygon points="158.07,260.2 156.17,257.1 159.97,257.1" fill="#3c3c3c"/>
<line x1="163.51" y1="248.2" x2="168.74" y2="260.8" stroke="#3c3c3c" stroke-width="1.26"/>
<line x1="168.74" y1="248.2" x2="163.51" y2="260.8" stroke="#3c3c3c" stroke-width="1.26"/>
<polygon points="168.74,248.2 168.25,253.41 165.39,252.22" fill="#3c3c3c"/>
<polygon points="168.74,260.8 165.39,256.78 168.25,255.59" fill="#3c3c3c"/>
<rect x="110.4" y="247" width="63.99" height="15" stroke="#3c3c3c" stroke-width="1.4" fill="none"/>
<line x1="131.73" y1="247" x2="131.73" y2="262" stroke="#3c3c3c" stroke-width="1.4"/>
<line x1="153.06" y1="247" x2="153.06" y2="262" stroke="#3c3c3c" stroke-width="1.4"/>
<text x="121.56" y="246.2" font-size="4.5" text-anchor="middle" font-weight="bold">1</text>
<text x="163.72" y="246.2" font-size="4.5" text-anchor="middle" font-weight="bold">2</text>
<line x1="142.4" y1="288.6" x2="191" y2="288.6" stroke="#3c3c3c" stroke-width="1.25"/>
<line x1="142.4" y1="288.6" x2="142.4" y2="308.6" stroke="#3c3c3c" stroke-width="1.25"/>
<line x1="148" y1="298.6" x2="191" y2="298.6" stroke="#3c3c3c" stroke-width="1.25"/>
<line x1="148" y1="298.6" x2="148" y2="308.6" stroke="#3c3c3c" stroke-width="1.25"/>
<line x1="148" y1="323.6" x2="148" y2="338.4" stroke="#3c3c3c" stroke-width="1.25"/>
<line x1="148" y1="338.4" x2="215" y2="338.4" stroke="#3c3c3c" stroke-width="1.25"/>
<polygon points="115.41,310.4 113.51,313.5 117.31,313.5" fill="#3c3c3c"/>
<polygon points="115.41,321.8 113.51,318.7 117.31,318.7" fill="#3c3c3c"/>
<line x1="120.85" y1="312.6" x2="120.85" y2="322.4" stroke="#3c3c3c" stroke-width="1.1"/>
<polygon points="120.85,309.8 122.4,314.8 119.3,314.8" fill="#3c3c3c"/>
<line x1="126.08" y1="309.8" x2="126.08" y2="319.6" stroke="#3c3c3c" stroke-width="1.1"/>
<polygon points="126.08,322.4 124.53,317.4 127.63,317.4" fill="#3c3c3c"/>
<polygon points="142.18,310.4 140.28,313.5 144.08,313.5" fill="#3c3c3c"/>
<polygon points="142.18,321.8 140.28,318.7 144.08,318.7" fill="#3c3c3c"/>
<polygon points="147.41,310.4 145.51,313.5 149.31,313.5" fill="#3c3c3c"/>
<polygon points="147.41,321.8 145.51,318.7 149.31,318.7" fill="#3c3c3c"/>
<polygon points="158.07,310.4 156.17,313.5 159.97,313.5" fill="#3c3c3c"/>
<polygon points="158.07,321.8 156.17,318.7 159.97,318.7" fill="#3c3c3c"/>
<line x1="163.51" y1="309.8" x2="168.74" y2="322.4" stroke="#3c3c3c" stroke-width="1.26"/>
<line x1="168.74" y1="309.8" x2="163.51" y2="322.4" stroke="#3c3c3c" stroke-width="1.26"/>
<polygon points="168.74,309.8 168.25,315.01 165.39,313.82" fill="#3c3c3c"/>
<polygon points="168.74,322.4 165.39,318.38 168.25,317.19" fill="#3c3c3c"/>
<rect x="110.4" y="308.6" width="63.99" height="15" stroke="#3c3c3c" stroke-width="1.4" fill="none"/>
<line x1="131.73" y1="308.6" x2="131.73" y2="323.6" stroke="#3c3c3c" stroke-width="1.4"/>
<line x1="153.06" y1="308.6" x2="153.06" y2="323.6" stroke="#3c3c3c" stroke-width="1.4"/>
<text x="121.56" y="307.8" font-size="4.5" text-anchor="middle" font-weight="bold">1</text>
<text x="163.72" y="307.8" font-size="4.5" text-anchor="middle" font-weight="bold">2</text>
<line x1="142.4" y1="353" x2="191" y2="353" stroke="#3c3c3c" stroke-width="1.25"/>
<line x1="142.4" y1="353" x2="142.4" y2="370.4" stroke="#3c3c3c" stroke-width="1.25"/>
<line x1="148" y1="363" x2="191" y2="363" stroke="#3c3c3c" stroke-width="1.25"/>
<line x1="148" y1="363" x2="148" y2="370.4" stroke="#3c3c3c" stroke-width="1.25"/>
<line x1="148" y1="385.4" x2="148" y2="391.6" stroke="#3c3c3c" stroke-width="1.25"/>
<line x1="148" y1="391.6" x2="215" y2="391.6" stroke="#3c3c3c" stroke-width="1.25"/>
<polygon points="115.41,372.2 113.51,375.3 117.31,375.3" fill="#3c3c3c"/>
<polygon points="115.41,383.6 113.51,380.5 117.31,380.5" fill="#3c3c3c"/>
<line x1="120.85" y1="374.4" x2="120.85" y2="384.2" stroke="#3c3c3c" stroke-width="1.1"/>
<polygon points="120.85,371.6 122.4,376.6 119.3,376.6" fill="#3c3c3c"/>
<line x1="126.08" y1="371.6" x2="126.08" y2="381.4" stroke="#3c3c3c" stroke-width="1.1"/>
<polygon points="126.08,384.2 124.53,379.2 127.63,379.2" fill="#3c3c3c"/>
<polygon points="142.18,372.2 140.28,375.3 144.08,375.3" fill="#3c3c3c"/>
<polygon points="142.18,383.6 140.28,380.5 144.08,380.5" fill="#3c3c3c"/>
<polygon points="147.41,372.2 145.51,375.3 149.31,375.3" fill="#3c3c3c"/>
<polygon points="147.41,383.6 145.51,380.5 149.31,380.5" fill="#3c3c3c"/>
<polygon points="158.07,372.2 156.17,375.3 159.97,375.3" fill="#3c3c3c"/>
<polygon points="158.07,383.6 156.17,380.5 159.97,380.5" fill="#3c3c3c"/>
<line x1="163.51" y1="371.6" x2="168.74" y2="384.2" stroke="#3c3c3c" stroke-width="1.26"/>
<line x1="168.74" y1="371.6" x2="163.51" y2="384.2" stroke="#3c3c3c" stroke-width="1.26"/>
<polygon points="168.74,371.6 168.25,376.81 165.39,375.62" fill="#3c3c3c"/>
<polygon points="168.74,384.2 165.39,380.18 168.25,378.99" fill="#3c3c3c"/>
<rect x="110.4" y="370.4" width="63.99" height="15" stroke="#3c3c3c" stroke-width="1.4" fill="none"/>
<line x1="131.73" y1="370.4" x2="131.73" y2="385.4" stroke="#3c3c3c" stroke-width="1.4"/>
<line x1="153.06" y1="370.4" x2="153.06" y2="385.4" stroke="#3c3c3c" stroke-width="1.4"/>
<text x="121.56" y="369.6" font-size="4.5" text-anchor="middle" font-weight="bold">1</text>
<text x="163.72" y="369.6" font-size="4.5" text-anchor="middle" font-weight="bold">2</text>
<text x="194.4" y="224" font-size="10.5">B3</text>
<text x="192" y="244" font-size="10.5">A3</text>
<text x="194.4" y="290" font-size="10.5">B2</text>
<text x="192" y="310" font-size="10.5">A2</text>
<text x="194.4" y="350" font-size="10.5">B1</text>
<text x="192" y="370" font-size="10.5">A1</text>
<text x="88.4" y="272" font-size="9.5">P</text>
<path d="M96,271.4 H134.2 A2.8,2.8 0 0 0 139.8,271.4 H142.4" stroke="#3c3c3c" stroke-width="1.25" fill="none"/>
<line x1="142.4" y1="262" x2="142.4" y2="271.4" stroke="#3c3c3c" stroke-width="1.25"/>
<path d="M96,332 H134.2 A2.8,2.8 0 0 0 139.8,332 H142.4" stroke="#3c3c3c" stroke-width="1.25" fill="none"/>
<line x1="142.4" y1="323.6" x2="142.4" y2="332" stroke="#3c3c3c" stroke-width="1.25"/>
<line x1="142.4" y1="385.4" x2="142.4" y2="397" stroke="#3c3c3c" stroke-width="1.25"/>
<line x1="96" y1="271.4" x2="96" y2="410" stroke="#3c3c3c" stroke-width="1.25"/>
<polygon points="93.6,410.5 98.4,410.5 96,414.5" stroke="#3c3c3c" stroke-width="0.9" fill="none"/>
<line x1="93.4" y1="410.5" x2="98.6" y2="410.5" stroke="#3c3c3c" stroke-width="1"/>
<line x1="96" y1="414.5" x2="96" y2="420" stroke="#3c3c3c" stroke-width="1.25"/>
<line x1="96" y1="420" x2="137" y2="420" stroke="#3c3c3c" stroke-width="1.25"/>
<circle cx="137" cy="420" r="1.55" fill="#3c3c3c"/>
<path d="M96,407 H134.2 A2.8,2.8 0 0 0 139.8,407 H165.6" stroke="#3c3c3c" stroke-width="1.25" fill="none"/>
<line x1="165.6" y1="407" x2="165.6" y2="427" stroke="#3c3c3c" stroke-width="1.25"/>
<rect x="158" y="427" width="16.4" height="14.6" stroke="#3c3c3c" stroke-width="1.4" fill="none"/>
<line x1="162.9" y1="429.5" x2="169.8" y2="429.5" stroke="#3c3c3c" stroke-width="1.3"/>
<line x1="169.8" y1="429.5" x2="169.8" y2="438.8" stroke="#3c3c3c" stroke-width="1.1"/>
<polygon points="169.8,439 168.9,435.8 170.7,435.8" fill="#3c3c3c"/>
<line x1="144" y1="426" x2="149.3" y2="442.3" stroke="#3c3c3c" stroke-width="1.1"/>
<polyline points="144.4,440.6 146.8,430.5 149.6,439.5 154.5,429.5" stroke="#3c3c3c" stroke-width="1.1" fill="none"/>
<line x1="165.6" y1="441.6" x2="165.6" y2="448" stroke="#3c3c3c" stroke-width="1.25"/>
<line x1="165.6" y1="448" x2="215" y2="448" stroke="#3c3c3c" stroke-width="1.25"/>
<line x1="165.6" y1="420" x2="176.8" y2="420" stroke="#c8a0d0" stroke-width="1.1"/>
<line x1="183.1" y1="420" x2="195.6" y2="420" stroke="#c8a0d0" stroke-width="1.1"/>
<line x1="195.6" y1="420" x2="195.6" y2="434.4" stroke="#c8a0d0" stroke-width="1.1"/>
<line x1="195.6" y1="434.4" x2="187.9" y2="434.4" stroke="#c8a0d0" stroke-width="1.1"/>
<line x1="181.6" y1="434.4" x2="174.4" y2="434.4" stroke="#c8a0d0" stroke-width="1.1"/>
<line x1="68" y1="441.6" x2="137" y2="441.6" stroke="#3c3c3c" stroke-width="1.25"/>
<circle cx="68" cy="441.6" r="1.6" fill="#a84848"/>
<circle cx="137" cy="458" r="1.6" fill="#a84848"/>
<text x="70" y="451" font-size="9.5">P2</text>
<text x="126" y="457" font-size="9.5">P1</text>
<line x1="68" y1="474.4" x2="138" y2="474.4" stroke="#b39797" stroke-width="1.4"/>
<line x1="149" y1="474.4" x2="162" y2="474.4" stroke="#b39797" stroke-width="1.4"/>
<line x1="175" y1="474.4" x2="243.6" y2="474.4" stroke="#b39797" stroke-width="1.4"/>
<line x1="68" y1="527.6" x2="137" y2="527.6" stroke="#b39797" stroke-width="1.4"/>
<line x1="149" y1="527.6" x2="162" y2="527.6" stroke="#b39797" stroke-width="1.4"/>
<line x1="175" y1="527.6" x2="243.6" y2="527.6" stroke="#b39797" stroke-width="1.4"/>
<line x1="68" y1="474.4" x2="68" y2="527.6" stroke="#b39797" stroke-width="1.4"/>
<line x1="243.6" y1="474.4" x2="243.6" y2="527.6" stroke="#b39797" stroke-width="1.4"/>
<line x1="96" y1="474.4" x2="96" y2="485" stroke="#3c3c3c" stroke-width="1.25"/>
<polygon points="93.6,485.5 98.4,485.5 96,489.5" stroke="#3c3c3c" stroke-width="0.9" fill="none"/>
<line x1="93.4" y1="485.5" x2="98.6" y2="485.5" stroke="#3c3c3c" stroke-width="1"/>
<line x1="96" y1="489.5" x2="96" y2="495.6" stroke="#3c3c3c" stroke-width="1.25"/>
<line x1="96" y1="495.6" x2="137" y2="495.6" stroke="#3c3c3c" stroke-width="1.25"/>
<circle cx="137" cy="495.6" r="1.55" fill="#3c3c3c"/>
<path d="M96,483 H134.2 A2.8,2.8 0 0 0 139.8,483 H165.6" stroke="#3c3c3c" stroke-width="1.25" fill="none"/>
<line x1="142.4" y1="474.4" x2="142.4" y2="483" stroke="#3c3c3c" stroke-width="1.25"/>
<line x1="137" y1="474.4" x2="137" y2="527.6" stroke="#3c3c3c" stroke-width="1.25"/>
<line x1="165.6" y1="483" x2="165.6" y2="495" stroke="#3c3c3c" stroke-width="1.25"/>
<line x1="161" y1="495" x2="170" y2="495" stroke="#3c3c3c" stroke-width="1.25"/>
<line x1="161" y1="504.4" x2="170" y2="504.4" stroke="#3c3c3c" stroke-width="1.25"/>
<line x1="165.6" y1="504.4" x2="165.6" y2="517" stroke="#3c3c3c" stroke-width="1.25"/>
<line x1="165.6" y1="517" x2="215" y2="517" stroke="#3c3c3c" stroke-width="1.25"/>
<line x1="215" y1="474.4" x2="215" y2="517" stroke="#3c3c3c" stroke-width="1.25"/>
<line x1="68" y1="511" x2="137" y2="511" stroke="#3c3c3c" stroke-width="1.25"/>
<circle cx="68" cy="511" r="1.6" fill="#a84848"/>
<circle cx="137" cy="527.6" r="1.6" fill="#a84848"/>
<text x="167" y="504" font-size="9.5">SVP</text>
<text x="70" y="520" font-size="9.5">P2</text>
<text x="126" y="526" font-size="9.5">P1</text>
<line x1="251.6" y1="115.6" x2="260.7" y2="115.6" stroke="#3c3c3c" stroke-width="1.1"/>
<polygon points="251.6,115.6 254.6,114.6 254.6,116.6" fill="#3c3c3c"/>
<line x1="260.7" y1="115.6" x2="260.7" y2="263.5" stroke="#3c3c3c" stroke-width="1.1"/>
<line x1="260.7" y1="263.5" x2="284.2" y2="263.5" stroke="#3c3c3c" stroke-width="1.1"/>
<line x1="242" y1="162.8" x2="250.5" y2="162.8" stroke="#3c3c3c" stroke-width="1.1"/>
<polygon points="242,162.8 245,161.8 245,163.8" fill="#3c3c3c"/>
<line x1="250.5" y1="162.8" x2="250.5" y2="343.3" stroke="#3c3c3c" stroke-width="1.1"/>
<line x1="250.5" y1="343.3" x2="280.4" y2="343.3" stroke="#3c3c3c" stroke-width="1.1"/>
<line x1="259.8" y1="363.6" x2="259.8" y2="416" stroke="#3c3c3c" stroke-width="1.1"/>
<line x1="251" y1="391" x2="259.8" y2="391" stroke="#3c3c3c" stroke-width="1.1"/>
<polygon points="251,391 254,390 254,392" fill="#3c3c3c"/>
<line x1="259.8" y1="427.6" x2="276.2" y2="427.6" stroke="#3c3c3c" stroke-width="1.1"/>
<line x1="259.8" y1="427.6" x2="259.8" y2="505.3" stroke="#3c3c3c" stroke-width="1.1"/>
<line x1="251" y1="505.3" x2="259.8" y2="505.3" stroke="#3c3c3c" stroke-width="1.1"/>
<polygon points="251,505.3 254,504.3 254,506.3" fill="#3c3c3c"/>
<line x1="251.4" y1="693.4" x2="251.4" y2="747.5" stroke="#3c3c3c" stroke-width="1.1"/>
<line x1="242.4" y1="721.4" x2="251.4" y2="721.4" stroke="#3c3c3c" stroke-width="1.1"/>
<polygon points="242.4,721.4 245.4,720.4 245.4,722.4" fill="#3c3c3c"/>
<text x="273" y="261.8" font-size="9.8" textLength="66.2" lengthAdjust="spacing" transform="rotate(-90 273 261.8)">Power beyond</text>
<text x="285" y="261.8" font-size="9.8" textLength="119.8" lengthAdjust="spacing" transform="rotate(-90 285 261.8)">High pressure carry over</text>
<text x="274" y="340" font-size="9.8" textLength="63.5" lengthAdjust="spacing" transform="rotate(-90 274 340)">Closed center</text>
<text x="274" y="415" font-size="9.8" textLength="42" lengthAdjust="spacing" transform="rotate(-90 274 415)">Standard</text>
<text x="274" y="537" font-size="9.8" textLength="91.5" lengthAdjust="spacing" transform="rotate(-90 274 537)">Without relief valve</text>
<text x="263.4" y="745" font-size="9.8" textLength="42" lengthAdjust="spacing" transform="rotate(-90 263.4 745)">Standard</text>
<text x="50.4" y="418.6" font-size="8.5" textLength="65" lengthAdjust="spacing" font-weight="bold" font-style="italic" transform="rotate(-90 50.4 418.6)">03P40  1A1A1A1</text>
<line x1="52.6" y1="348.7" x2="52.6" y2="418" stroke="#3c3c3c" stroke-width="1.2"/>
<text x="57.2" y="812" font-size="8.5" textLength="59" lengthAdjust="spacing" font-weight="bold" font-style="italic" transform="rotate(-90 57.2 812)">3P40  2A1A1A1</text>
<line x1="59.8" y1="742" x2="59.8" y2="812" stroke="#3c3c3c" stroke-width="1.2"/>
<line x1="66.2" y1="588.7" x2="135" y2="588.7" stroke="#b39797" stroke-width="1.4"/>
<line x1="143.6" y1="588.7" x2="159.8" y2="588.7" stroke="#b39797" stroke-width="1.4"/>
<line x1="172" y1="588.7" x2="241.5" y2="588.7" stroke="#b39797" stroke-width="1.4"/>
<line x1="66.2" y1="852" x2="135.6" y2="852" stroke="#b39797" stroke-width="1.4"/>
<line x1="147" y1="852" x2="160" y2="852" stroke="#b39797" stroke-width="1.4"/>
<line x1="172" y1="852" x2="241.5" y2="852" stroke="#b39797" stroke-width="1.4"/>
<line x1="66.2" y1="588.7" x2="66.2" y2="645.8" stroke="#b39797" stroke-width="1.4"/>
<line x1="66.2" y1="653.4" x2="66.2" y2="671" stroke="#b39797" stroke-width="1.4"/>
<line x1="66.2" y1="683.6" x2="66.2" y2="756.4" stroke="#b39797" stroke-width="1.4"/>
<line x1="66.2" y1="766" x2="66.2" y2="783" stroke="#b39797" stroke-width="1.4"/>
<line x1="66.2" y1="793.4" x2="66.2" y2="852" stroke="#b39797" stroke-width="1.4"/>
<line x1="241.5" y1="588.7" x2="241.5" y2="645.8" stroke="#b39797" stroke-width="1.4"/>
<line x1="241.5" y1="653.4" x2="241.5" y2="671" stroke="#b39797" stroke-width="1.4"/>
<line x1="241.5" y1="683.6" x2="241.5" y2="756.4" stroke="#b39797" stroke-width="1.4"/>
<line x1="241.5" y1="766" x2="241.5" y2="783" stroke="#b39797" stroke-width="1.4"/>
<line x1="241.5" y1="793.4" x2="241.5" y2="852" stroke="#b39797" stroke-width="1.4"/>
<line x1="66.2" y1="603.1" x2="213.6" y2="603.1" stroke="#3c3c3c" stroke-width="1.25"/>
<line x1="135.6" y1="603.1" x2="135.6" y2="835.6" stroke="#3c3c3c" stroke-width="1.25"/>
<line x1="135.6" y1="835.6" x2="135.6" y2="852" stroke="#3c3c3c" stroke-width="1.25"/>
<line x1="213.6" y1="588.7" x2="213.6" y2="841.6" stroke="#3c3c3c" stroke-width="1.25"/>
<circle cx="66.2" cy="603.1" r="1.6" fill="#a84848"/>
<circle cx="135.6" cy="603.1" r="1.4" fill="#3c3c3c"/>
<circle cx="213.6" cy="603.1" r="1.4" fill="#3c3c3c"/>
<circle cx="213.6" cy="588.7" r="1.6" fill="#a84848"/>
<text x="71" y="602" font-size="9.5">T2</text>
<text x="215.6" y="598" font-size="9.5">T1</text>
<text x="127.6" y="611" font-size="9.5">N</text>
<line x1="140.6" y1="620.6" x2="188" y2="620.6" stroke="#3c3c3c" stroke-width="1.25"/>
<line x1="140.6" y1="620.6" x2="140.6" y2="640" stroke="#3c3c3c" stroke-width="1.25"/>
<line x1="145.6" y1="630" x2="188" y2="630" stroke="#3c3c3c" stroke-width="1.25"/>
<line x1="145.6" y1="630" x2="145.6" y2="640" stroke="#3c3c3c" stroke-width="1.25"/>
<line x1="145.6" y1="655.4" x2="145.6" y2="669.6" stroke="#3c3c3c" stroke-width="1.25"/>
<line x1="145.6" y1="669.6" x2="213.6" y2="669.6" stroke="#3c3c3c" stroke-width="1.25"/>
<polygon points="113.6,641.8 111.7,644.9 115.5,644.9" fill="#3c3c3c"/>
<polygon points="113.6,653.6 111.7,650.5 115.5,650.5" fill="#3c3c3c"/>
<line x1="119.02" y1="644" x2="119.02" y2="654.2" stroke="#3c3c3c" stroke-width="1.1"/>
<polygon points="119.02,641.2 120.57,646.2 117.47,646.2" fill="#3c3c3c"/>
<line x1="124.23" y1="641.2" x2="124.23" y2="651.4" stroke="#3c3c3c" stroke-width="1.1"/>
<polygon points="124.23,654.2 122.68,649.2 125.78,649.2" fill="#3c3c3c"/>
<polygon points="140.29,641.8 138.39,644.9 142.19,644.9" fill="#3c3c3c"/>
<polygon points="140.29,653.6 138.39,650.5 142.19,650.5" fill="#3c3c3c"/>
<polygon points="145.5,641.8 143.6,644.9 147.4,644.9" fill="#3c3c3c"/>
<polygon points="145.5,653.6 143.6,650.5 147.4,650.5" fill="#3c3c3c"/>
<polygon points="156.14,641.8 154.24,644.9 158.04,644.9" fill="#3c3c3c"/>
<polygon points="156.14,653.6 154.24,650.5 158.04,650.5" fill="#3c3c3c"/>
<line x1="161.56" y1="641.2" x2="166.77" y2="654.2" stroke="#3c3c3c" stroke-width="1.26"/>
<line x1="166.77" y1="641.2" x2="161.56" y2="654.2" stroke="#3c3c3c" stroke-width="1.26"/>
<polygon points="166.77,641.2 166.35,646.42 163.47,645.26" fill="#3c3c3c"/>
<polygon points="166.77,654.2 163.47,650.14 166.35,648.98" fill="#3c3c3c"/>
<rect x="108.6" y="640" width="63.81" height="15.4" stroke="#3c3c3c" stroke-width="1.4" fill="none"/>
<line x1="129.87" y1="640" x2="129.87" y2="655.4" stroke="#3c3c3c" stroke-width="1.4"/>
<line x1="151.14" y1="640" x2="151.14" y2="655.4" stroke="#3c3c3c" stroke-width="1.4"/>
<text x="119.73" y="639.2" font-size="4.5" text-anchor="middle" font-weight="bold">1</text>
<text x="161.77" y="639.2" font-size="4.5" text-anchor="middle" font-weight="bold">2</text>
<line x1="140.6" y1="655.4" x2="140.6" y2="665" stroke="#3c3c3c" stroke-width="1.25"/>
<polygon points="138.2,665 143,665 140.6,669" stroke="#3c3c3c" stroke-width="0.9" fill="none"/>
<line x1="138" y1="665" x2="143.2" y2="665" stroke="#3c3c3c" stroke-width="1"/>
<line x1="140.6" y1="669" x2="140.6" y2="673" stroke="#3c3c3c" stroke-width="1.25"/>
<line x1="135.6" y1="673" x2="140.6" y2="673" stroke="#3c3c3c" stroke-width="1.25"/>
<line x1="140.6" y1="682" x2="188" y2="682" stroke="#3c3c3c" stroke-width="1.25"/>
<line x1="140.6" y1="682" x2="140.6" y2="701.6" stroke="#3c3c3c" stroke-width="1.25"/>
<line x1="145.6" y1="691.6" x2="188" y2="691.6" stroke="#3c3c3c" stroke-width="1.25"/>
<line x1="145.6" y1="691.6" x2="145.6" y2="701.6" stroke="#3c3c3c" stroke-width="1.25"/>
<line x1="145.6" y1="717" x2="145.6" y2="731.4" stroke="#3c3c3c" stroke-width="1.25"/>
<line x1="145.6" y1="731.4" x2="213.6" y2="731.4" stroke="#3c3c3c" stroke-width="1.25"/>
<polygon points="113.6,703.4 111.7,706.5 115.5,706.5" fill="#3c3c3c"/>
<polygon points="113.6,715.2 111.7,712.1 115.5,712.1" fill="#3c3c3c"/>
<line x1="119.02" y1="705.6" x2="119.02" y2="715.8" stroke="#3c3c3c" stroke-width="1.1"/>
<polygon points="119.02,702.8 120.57,707.8 117.47,707.8" fill="#3c3c3c"/>
<line x1="124.23" y1="702.8" x2="124.23" y2="713" stroke="#3c3c3c" stroke-width="1.1"/>
<polygon points="124.23,715.8 122.68,710.8 125.78,710.8" fill="#3c3c3c"/>
<polygon points="140.29,703.4 138.39,706.5 142.19,706.5" fill="#3c3c3c"/>
<polygon points="140.29,715.2 138.39,712.1 142.19,712.1" fill="#3c3c3c"/>
<polygon points="145.5,703.4 143.6,706.5 147.4,706.5" fill="#3c3c3c"/>
<polygon points="145.5,715.2 143.6,712.1 147.4,712.1" fill="#3c3c3c"/>
<polygon points="156.14,703.4 154.24,706.5 158.04,706.5" fill="#3c3c3c"/>
<polygon points="156.14,715.2 154.24,712.1 158.04,712.1" fill="#3c3c3c"/>
<line x1="161.56" y1="702.8" x2="166.77" y2="715.8" stroke="#3c3c3c" stroke-width="1.26"/>
<line x1="166.77" y1="702.8" x2="161.56" y2="715.8" stroke="#3c3c3c" stroke-width="1.26"/>
<polygon points="166.77,702.8 166.35,708.02 163.47,706.86" fill="#3c3c3c"/>
<polygon points="166.77,715.8 163.47,711.74 166.35,710.58" fill="#3c3c3c"/>
<rect x="108.6" y="701.6" width="63.81" height="15.4" stroke="#3c3c3c" stroke-width="1.4" fill="none"/>
<line x1="129.87" y1="701.6" x2="129.87" y2="717" stroke="#3c3c3c" stroke-width="1.4"/>
<line x1="151.14" y1="701.6" x2="151.14" y2="717" stroke="#3c3c3c" stroke-width="1.4"/>
<text x="119.73" y="700.8" font-size="4.5" text-anchor="middle" font-weight="bold">1</text>
<text x="161.77" y="700.8" font-size="4.5" text-anchor="middle" font-weight="bold">2</text>
<line x1="140.6" y1="717" x2="140.6" y2="728" stroke="#3c3c3c" stroke-width="1.25"/>
<polygon points="138.2,728 143,728 140.6,732" stroke="#3c3c3c" stroke-width="0.9" fill="none"/>
<line x1="138" y1="728" x2="143.2" y2="728" stroke="#3c3c3c" stroke-width="1"/>
<line x1="140.6" y1="732" x2="140.6" y2="736" stroke="#3c3c3c" stroke-width="1.25"/>
<line x1="135.6" y1="736" x2="140.6" y2="736" stroke="#3c3c3c" stroke-width="1.25"/>
<line x1="140.6" y1="746.6" x2="188" y2="746.6" stroke="#3c3c3c" stroke-width="1.25"/>
<line x1="140.6" y1="746.6" x2="140.6" y2="764" stroke="#3c3c3c" stroke-width="1.25"/>
<line x1="145.6" y1="757" x2="188" y2="757" stroke="#3c3c3c" stroke-width="1.25"/>
<line x1="145.6" y1="757" x2="145.6" y2="764" stroke="#3c3c3c" stroke-width="1.25"/>
<line x1="145.6" y1="779.4" x2="145.6" y2="784.4" stroke="#3c3c3c" stroke-width="1.25"/>
<line x1="145.6" y1="784.4" x2="213.6" y2="784.4" stroke="#3c3c3c" stroke-width="1.25"/>
<polygon points="113.6,765.8 111.7,768.9 115.5,768.9" fill="#3c3c3c"/>
<polygon points="113.6,777.6 111.7,774.5 115.5,774.5" fill="#3c3c3c"/>
<line x1="119.02" y1="768" x2="119.02" y2="778.2" stroke="#3c3c3c" stroke-width="1.1"/>
<polygon points="119.02,765.2 120.57,770.2 117.47,770.2" fill="#3c3c3c"/>
<line x1="124.23" y1="765.2" x2="124.23" y2="775.4" stroke="#3c3c3c" stroke-width="1.1"/>
<polygon points="124.23,778.2 122.68,773.2 125.78,773.2" fill="#3c3c3c"/>
<polygon points="140.29,765.8 138.39,768.9 142.19,768.9" fill="#3c3c3c"/>
<polygon points="140.29,777.6 138.39,774.5 142.19,774.5" fill="#3c3c3c"/>
<polygon points="145.5,765.8 143.6,768.9 147.4,768.9" fill="#3c3c3c"/>
<polygon points="145.5,777.6 143.6,774.5 147.4,774.5" fill="#3c3c3c"/>
<polygon points="156.14,765.8 154.24,768.9 158.04,768.9" fill="#3c3c3c"/>
<polygon points="156.14,777.6 154.24,774.5 158.04,774.5" fill="#3c3c3c"/>
<line x1="161.56" y1="765.2" x2="166.77" y2="778.2" stroke="#3c3c3c" stroke-width="1.26"/>
<line x1="166.77" y1="765.2" x2="161.56" y2="778.2" stroke="#3c3c3c" stroke-width="1.26"/>
<polygon points="166.77,765.2 166.35,770.42 163.47,769.26" fill="#3c3c3c"/>
<polygon points="166.77,778.2 163.47,774.14 166.35,772.98" fill="#3c3c3c"/>
<rect x="108.6" y="764" width="63.81" height="15.4" stroke="#3c3c3c" stroke-width="1.4" fill="none"/>
<line x1="129.87" y1="764" x2="129.87" y2="779.4" stroke="#3c3c3c" stroke-width="1.4"/>
<line x1="151.14" y1="764" x2="151.14" y2="779.4" stroke="#3c3c3c" stroke-width="1.4"/>
<text x="119.73" y="763.2" font-size="4.5" text-anchor="middle" font-weight="bold">1</text>
<text x="161.77" y="763.2" font-size="4.5" text-anchor="middle" font-weight="bold">2</text>
<line x1="140.6" y1="779.4" x2="140.6" y2="794" stroke="#3c3c3c" stroke-width="1.25"/>
<polygon points="138.2,794 143,794 140.6,798" stroke="#3c3c3c" stroke-width="0.9" fill="none"/>
<line x1="138" y1="794" x2="143.2" y2="794" stroke="#3c3c3c" stroke-width="1"/>
<line x1="140.6" y1="798" x2="140.6" y2="802" stroke="#3c3c3c" stroke-width="1.25"/>
<line x1="135.6" y1="802" x2="140.6" y2="802" stroke="#3c3c3c" stroke-width="1.25"/>
<text x="193" y="617" font-size="10.5">B3</text>
<text x="190" y="637.4" font-size="10.5">A3</text>
<text x="193" y="683" font-size="10.5">B2</text>
<text x="190" y="703" font-size="10.5">A2</text>
<text x="193" y="744" font-size="10.5">B1</text>
<text x="190" y="764" font-size="10.5">A1</text>
<circle cx="135.6" cy="813" r="1.4" fill="#3c3c3c"/>
<line x1="135.6" y1="813" x2="164" y2="813" stroke="#3c3c3c" stroke-width="1.25"/>
<line x1="164" y1="813" x2="164" y2="819.6" stroke="#3c3c3c" stroke-width="1.25"/>
<rect x="156" y="819.6" width="16.4" height="16" stroke="#3c3c3c" stroke-width="1.4" fill="none"/>
<line x1="160.9" y1="822.1" x2="167.8" y2="822.1" stroke="#3c3c3c" stroke-width="1.3"/>
<line x1="167.8" y1="822.1" x2="167.8" y2="832.8" stroke="#3c3c3c" stroke-width="1.1"/>
<polygon points="167.8,833 166.9,829.8 168.7,829.8" fill="#3c3c3c"/>
<line x1="142" y1="818.6" x2="147.3" y2="836.3" stroke="#3c3c3c" stroke-width="1.1"/>
<polyline points="142.4,834.6 144.8,823.1 147.6,833.5 152.5,822.1" stroke="#3c3c3c" stroke-width="1.1" fill="none"/>
<line x1="164" y1="835.6" x2="164" y2="841.6" stroke="#3c3c3c" stroke-width="1.25"/>
<line x1="164" y1="841.6" x2="213.6" y2="841.6" stroke="#3c3c3c" stroke-width="1.25"/>
<line x1="164.3" y1="813" x2="175.5" y2="813" stroke="#c8a0d0" stroke-width="1.1"/>
<line x1="181.8" y1="813" x2="193.7" y2="813" stroke="#c8a0d0" stroke-width="1.1"/>
<line x1="193.7" y1="813" x2="193.7" y2="827.7" stroke="#c8a0d0" stroke-width="1.1"/>
<line x1="193.7" y1="827.7" x2="186" y2="827.7" stroke="#c8a0d0" stroke-width="1.1"/>
<line x1="179.7" y1="827.7" x2="172.4" y2="827.7" stroke="#c8a0d0" stroke-width="1.1"/>
<line x1="66.2" y1="835.6" x2="135.6" y2="835.6" stroke="#3c3c3c" stroke-width="1.25"/>
<circle cx="66.2" cy="835.6" r="1.6" fill="#a84848"/>
<circle cx="135.6" cy="852" r="1.6" fill="#a84848"/>
<text x="68" y="844.4" font-size="9.5">P2</text>
<text x="124" y="850" font-size="9.5">P1</text>
<circle cx="294.2" cy="795.6" r="0.9" fill="#666"/>
<circle cx="294.2" cy="822" r="0.8" fill="#aaa"/>
</svg>
</body></html>
